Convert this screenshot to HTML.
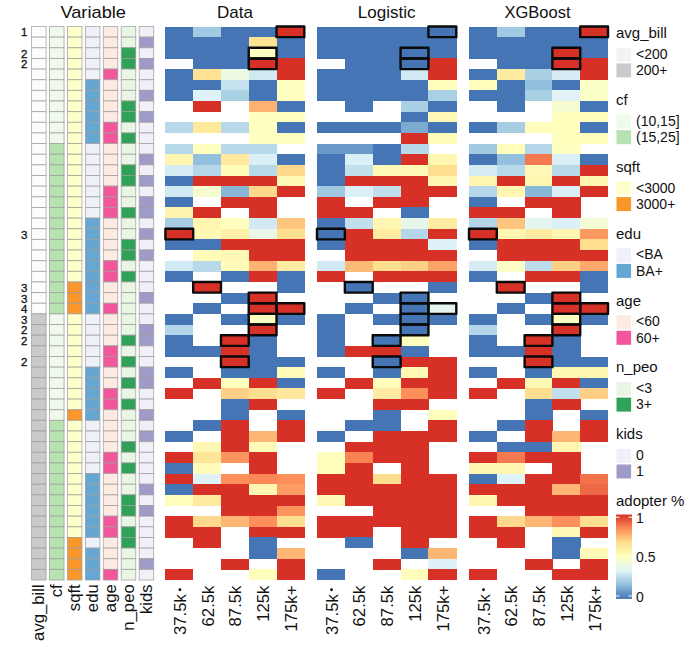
<!DOCTYPE html>
<html><head><meta charset="utf-8"><title>heatmap</title>
<style>html,body{margin:0;padding:0;background:#fff}body{width:696px;height:660px;overflow:hidden;font-family:"Liberation Sans",sans-serif}svg{display:block}</style></head>
<body>
<svg width="696" height="660" viewBox="0 0 696 660">
<rect width="696" height="660" fill="#ffffff"/>
<g font-family="Liberation Sans, sans-serif" font-size="17" fill="#111" text-anchor="middle">
<text x="93.2" y="18.1" textLength="65.6" lengthAdjust="spacingAndGlyphs">Variable</text>
<text x="234.9" y="18.1">Data</text>
<text x="386.6" y="18.1">Logistic</text>
<text x="537.5" y="18.1" textLength="66" lengthAdjust="spacingAndGlyphs">XGBoost</text>
</g>
<g font-family="Liberation Sans, sans-serif" font-size="11.5" fill="#111" text-anchor="end" stroke="#111" stroke-width="0.3">
<text x="27.4" y="36.42">1</text>
<text x="27.4" y="57.71">2</text>
<text x="27.4" y="68.36">2</text>
<text x="27.4" y="238.68">3</text>
<text x="27.4" y="291.90">3</text>
<text x="27.4" y="302.55">3</text>
<text x="27.4" y="313.19">4</text>
<text x="27.4" y="323.84">3</text>
<text x="27.4" y="334.48">2</text>
<text x="27.4" y="345.13">2</text>
<text x="27.4" y="366.42">2</text>
</g>
<g stroke="#9c9c9c" stroke-opacity="0.8" stroke-width="0.9">
<rect x="31.60" y="26.50" width="14.5" height="10.645" fill="#fcfcfc"/>
<rect x="31.60" y="37.14" width="14.5" height="10.645" fill="#fcfcfc"/>
<rect x="31.60" y="47.79" width="14.5" height="10.645" fill="#fcfcfc"/>
<rect x="31.60" y="58.44" width="14.5" height="10.645" fill="#fcfcfc"/>
<rect x="31.60" y="69.08" width="14.5" height="10.645" fill="#fcfcfc"/>
<rect x="31.60" y="79.72" width="14.5" height="10.645" fill="#fcfcfc"/>
<rect x="31.60" y="90.37" width="14.5" height="10.645" fill="#fcfcfc"/>
<rect x="31.60" y="101.02" width="14.5" height="10.645" fill="#fcfcfc"/>
<rect x="31.60" y="111.66" width="14.5" height="10.645" fill="#fcfcfc"/>
<rect x="31.60" y="122.30" width="14.5" height="10.645" fill="#fcfcfc"/>
<rect x="31.60" y="132.95" width="14.5" height="10.645" fill="#fcfcfc"/>
<rect x="31.60" y="143.59" width="14.5" height="10.645" fill="#fcfcfc"/>
<rect x="31.60" y="154.24" width="14.5" height="10.645" fill="#fcfcfc"/>
<rect x="31.60" y="164.88" width="14.5" height="10.645" fill="#fcfcfc"/>
<rect x="31.60" y="175.53" width="14.5" height="10.645" fill="#fcfcfc"/>
<rect x="31.60" y="186.17" width="14.5" height="10.645" fill="#fcfcfc"/>
<rect x="31.60" y="196.82" width="14.5" height="10.645" fill="#fcfcfc"/>
<rect x="31.60" y="207.47" width="14.5" height="10.645" fill="#fcfcfc"/>
<rect x="31.60" y="218.11" width="14.5" height="10.645" fill="#fcfcfc"/>
<rect x="31.60" y="228.75" width="14.5" height="10.645" fill="#fcfcfc"/>
<rect x="31.60" y="239.40" width="14.5" height="10.645" fill="#fcfcfc"/>
<rect x="31.60" y="250.04" width="14.5" height="10.645" fill="#fcfcfc"/>
<rect x="31.60" y="260.69" width="14.5" height="10.645" fill="#fcfcfc"/>
<rect x="31.60" y="271.33" width="14.5" height="10.645" fill="#fcfcfc"/>
<rect x="31.60" y="281.98" width="14.5" height="10.645" fill="#fcfcfc"/>
<rect x="31.60" y="292.62" width="14.5" height="10.645" fill="#fcfcfc"/>
<rect x="31.60" y="303.27" width="14.5" height="10.645" fill="#fcfcfc"/>
<rect x="31.60" y="313.91" width="14.5" height="10.645" fill="#cacaca"/>
<rect x="31.60" y="324.56" width="14.5" height="10.645" fill="#cacaca"/>
<rect x="31.60" y="335.20" width="14.5" height="10.645" fill="#cacaca"/>
<rect x="31.60" y="345.85" width="14.5" height="10.645" fill="#cacaca"/>
<rect x="31.60" y="356.50" width="14.5" height="10.645" fill="#cacaca"/>
<rect x="31.60" y="367.14" width="14.5" height="10.645" fill="#cacaca"/>
<rect x="31.60" y="377.78" width="14.5" height="10.645" fill="#cacaca"/>
<rect x="31.60" y="388.43" width="14.5" height="10.645" fill="#cacaca"/>
<rect x="31.60" y="399.07" width="14.5" height="10.645" fill="#cacaca"/>
<rect x="31.60" y="409.72" width="14.5" height="10.645" fill="#cacaca"/>
<rect x="31.60" y="420.37" width="14.5" height="10.645" fill="#cacaca"/>
<rect x="31.60" y="431.01" width="14.5" height="10.645" fill="#cacaca"/>
<rect x="31.60" y="441.65" width="14.5" height="10.645" fill="#cacaca"/>
<rect x="31.60" y="452.30" width="14.5" height="10.645" fill="#cacaca"/>
<rect x="31.60" y="462.94" width="14.5" height="10.645" fill="#cacaca"/>
<rect x="31.60" y="473.59" width="14.5" height="10.645" fill="#cacaca"/>
<rect x="31.60" y="484.23" width="14.5" height="10.645" fill="#cacaca"/>
<rect x="31.60" y="494.88" width="14.5" height="10.645" fill="#cacaca"/>
<rect x="31.60" y="505.52" width="14.5" height="10.645" fill="#cacaca"/>
<rect x="31.60" y="516.17" width="14.5" height="10.645" fill="#cacaca"/>
<rect x="31.60" y="526.82" width="14.5" height="10.645" fill="#cacaca"/>
<rect x="31.60" y="537.46" width="14.5" height="10.645" fill="#cacaca"/>
<rect x="31.60" y="548.11" width="14.5" height="10.645" fill="#cacaca"/>
<rect x="31.60" y="558.75" width="14.5" height="10.645" fill="#cacaca"/>
<rect x="31.60" y="569.39" width="14.5" height="10.645" fill="#cacaca"/>
<rect x="49.53" y="26.50" width="14.5" height="10.645" fill="#eff9ec"/>
<rect x="49.53" y="37.14" width="14.5" height="10.645" fill="#eff9ec"/>
<rect x="49.53" y="47.79" width="14.5" height="10.645" fill="#eff9ec"/>
<rect x="49.53" y="58.44" width="14.5" height="10.645" fill="#eff9ec"/>
<rect x="49.53" y="69.08" width="14.5" height="10.645" fill="#eff9ec"/>
<rect x="49.53" y="79.72" width="14.5" height="10.645" fill="#eff9ec"/>
<rect x="49.53" y="90.37" width="14.5" height="10.645" fill="#eff9ec"/>
<rect x="49.53" y="101.02" width="14.5" height="10.645" fill="#eff9ec"/>
<rect x="49.53" y="111.66" width="14.5" height="10.645" fill="#eff9ec"/>
<rect x="49.53" y="122.30" width="14.5" height="10.645" fill="#eff9ec"/>
<rect x="49.53" y="132.95" width="14.5" height="10.645" fill="#eff9ec"/>
<rect x="49.53" y="143.59" width="14.5" height="10.645" fill="#b7e2b1"/>
<rect x="49.53" y="154.24" width="14.5" height="10.645" fill="#b7e2b1"/>
<rect x="49.53" y="164.88" width="14.5" height="10.645" fill="#b7e2b1"/>
<rect x="49.53" y="175.53" width="14.5" height="10.645" fill="#b7e2b1"/>
<rect x="49.53" y="186.17" width="14.5" height="10.645" fill="#b7e2b1"/>
<rect x="49.53" y="196.82" width="14.5" height="10.645" fill="#b7e2b1"/>
<rect x="49.53" y="207.47" width="14.5" height="10.645" fill="#b7e2b1"/>
<rect x="49.53" y="218.11" width="14.5" height="10.645" fill="#b7e2b1"/>
<rect x="49.53" y="228.75" width="14.5" height="10.645" fill="#b7e2b1"/>
<rect x="49.53" y="239.40" width="14.5" height="10.645" fill="#b7e2b1"/>
<rect x="49.53" y="250.04" width="14.5" height="10.645" fill="#b7e2b1"/>
<rect x="49.53" y="260.69" width="14.5" height="10.645" fill="#b7e2b1"/>
<rect x="49.53" y="271.33" width="14.5" height="10.645" fill="#b7e2b1"/>
<rect x="49.53" y="281.98" width="14.5" height="10.645" fill="#b7e2b1"/>
<rect x="49.53" y="292.62" width="14.5" height="10.645" fill="#b7e2b1"/>
<rect x="49.53" y="303.27" width="14.5" height="10.645" fill="#b7e2b1"/>
<rect x="49.53" y="313.91" width="14.5" height="10.645" fill="#eff9ec"/>
<rect x="49.53" y="324.56" width="14.5" height="10.645" fill="#eff9ec"/>
<rect x="49.53" y="335.20" width="14.5" height="10.645" fill="#eff9ec"/>
<rect x="49.53" y="345.85" width="14.5" height="10.645" fill="#eff9ec"/>
<rect x="49.53" y="356.50" width="14.5" height="10.645" fill="#eff9ec"/>
<rect x="49.53" y="367.14" width="14.5" height="10.645" fill="#eff9ec"/>
<rect x="49.53" y="377.78" width="14.5" height="10.645" fill="#eff9ec"/>
<rect x="49.53" y="388.43" width="14.5" height="10.645" fill="#eff9ec"/>
<rect x="49.53" y="399.07" width="14.5" height="10.645" fill="#eff9ec"/>
<rect x="49.53" y="409.72" width="14.5" height="10.645" fill="#eff9ec"/>
<rect x="49.53" y="420.37" width="14.5" height="10.645" fill="#b7e2b1"/>
<rect x="49.53" y="431.01" width="14.5" height="10.645" fill="#b7e2b1"/>
<rect x="49.53" y="441.65" width="14.5" height="10.645" fill="#b7e2b1"/>
<rect x="49.53" y="452.30" width="14.5" height="10.645" fill="#b7e2b1"/>
<rect x="49.53" y="462.94" width="14.5" height="10.645" fill="#b7e2b1"/>
<rect x="49.53" y="473.59" width="14.5" height="10.645" fill="#b7e2b1"/>
<rect x="49.53" y="484.23" width="14.5" height="10.645" fill="#b7e2b1"/>
<rect x="49.53" y="494.88" width="14.5" height="10.645" fill="#b7e2b1"/>
<rect x="49.53" y="505.52" width="14.5" height="10.645" fill="#b7e2b1"/>
<rect x="49.53" y="516.17" width="14.5" height="10.645" fill="#b7e2b1"/>
<rect x="49.53" y="526.82" width="14.5" height="10.645" fill="#b7e2b1"/>
<rect x="49.53" y="537.46" width="14.5" height="10.645" fill="#b7e2b1"/>
<rect x="49.53" y="548.11" width="14.5" height="10.645" fill="#b7e2b1"/>
<rect x="49.53" y="558.75" width="14.5" height="10.645" fill="#b7e2b1"/>
<rect x="49.53" y="569.39" width="14.5" height="10.645" fill="#b7e2b1"/>
<rect x="67.46" y="26.50" width="14.5" height="10.645" fill="#ffffcc"/>
<rect x="67.46" y="37.14" width="14.5" height="10.645" fill="#ffffcc"/>
<rect x="67.46" y="47.79" width="14.5" height="10.645" fill="#ffffcc"/>
<rect x="67.46" y="58.44" width="14.5" height="10.645" fill="#ffffcc"/>
<rect x="67.46" y="69.08" width="14.5" height="10.645" fill="#ffffcc"/>
<rect x="67.46" y="79.72" width="14.5" height="10.645" fill="#ffffcc"/>
<rect x="67.46" y="90.37" width="14.5" height="10.645" fill="#ffffcc"/>
<rect x="67.46" y="101.02" width="14.5" height="10.645" fill="#ffffcc"/>
<rect x="67.46" y="111.66" width="14.5" height="10.645" fill="#ffffcc"/>
<rect x="67.46" y="122.30" width="14.5" height="10.645" fill="#ffffcc"/>
<rect x="67.46" y="132.95" width="14.5" height="10.645" fill="#ffffcc"/>
<rect x="67.46" y="143.59" width="14.5" height="10.645" fill="#ffffcc"/>
<rect x="67.46" y="154.24" width="14.5" height="10.645" fill="#ffffcc"/>
<rect x="67.46" y="164.88" width="14.5" height="10.645" fill="#ffffcc"/>
<rect x="67.46" y="175.53" width="14.5" height="10.645" fill="#ffffcc"/>
<rect x="67.46" y="186.17" width="14.5" height="10.645" fill="#ffffcc"/>
<rect x="67.46" y="196.82" width="14.5" height="10.645" fill="#ffffcc"/>
<rect x="67.46" y="207.47" width="14.5" height="10.645" fill="#ffffcc"/>
<rect x="67.46" y="218.11" width="14.5" height="10.645" fill="#ffffcc"/>
<rect x="67.46" y="228.75" width="14.5" height="10.645" fill="#ffffcc"/>
<rect x="67.46" y="239.40" width="14.5" height="10.645" fill="#ffffcc"/>
<rect x="67.46" y="250.04" width="14.5" height="10.645" fill="#ffffcc"/>
<rect x="67.46" y="260.69" width="14.5" height="10.645" fill="#ffffcc"/>
<rect x="67.46" y="271.33" width="14.5" height="10.645" fill="#ffffcc"/>
<rect x="67.46" y="281.98" width="14.5" height="10.645" fill="#f9972b"/>
<rect x="67.46" y="292.62" width="14.5" height="10.645" fill="#f9972b"/>
<rect x="67.46" y="303.27" width="14.5" height="10.645" fill="#f9972b"/>
<rect x="67.46" y="313.91" width="14.5" height="10.645" fill="#ffffcc"/>
<rect x="67.46" y="324.56" width="14.5" height="10.645" fill="#ffffcc"/>
<rect x="67.46" y="335.20" width="14.5" height="10.645" fill="#ffffcc"/>
<rect x="67.46" y="345.85" width="14.5" height="10.645" fill="#ffffcc"/>
<rect x="67.46" y="356.50" width="14.5" height="10.645" fill="#ffffcc"/>
<rect x="67.46" y="367.14" width="14.5" height="10.645" fill="#ffffcc"/>
<rect x="67.46" y="377.78" width="14.5" height="10.645" fill="#ffffcc"/>
<rect x="67.46" y="388.43" width="14.5" height="10.645" fill="#ffffcc"/>
<rect x="67.46" y="399.07" width="14.5" height="10.645" fill="#ffffcc"/>
<rect x="67.46" y="409.72" width="14.5" height="10.645" fill="#f9972b"/>
<rect x="67.46" y="420.37" width="14.5" height="10.645" fill="#ffffcc"/>
<rect x="67.46" y="431.01" width="14.5" height="10.645" fill="#ffffcc"/>
<rect x="67.46" y="441.65" width="14.5" height="10.645" fill="#ffffcc"/>
<rect x="67.46" y="452.30" width="14.5" height="10.645" fill="#ffffcc"/>
<rect x="67.46" y="462.94" width="14.5" height="10.645" fill="#ffffcc"/>
<rect x="67.46" y="473.59" width="14.5" height="10.645" fill="#ffffcc"/>
<rect x="67.46" y="484.23" width="14.5" height="10.645" fill="#ffffcc"/>
<rect x="67.46" y="494.88" width="14.5" height="10.645" fill="#ffffcc"/>
<rect x="67.46" y="505.52" width="14.5" height="10.645" fill="#ffffcc"/>
<rect x="67.46" y="516.17" width="14.5" height="10.645" fill="#ffffcc"/>
<rect x="67.46" y="526.82" width="14.5" height="10.645" fill="#ffffcc"/>
<rect x="67.46" y="537.46" width="14.5" height="10.645" fill="#f9972b"/>
<rect x="67.46" y="548.11" width="14.5" height="10.645" fill="#f9972b"/>
<rect x="67.46" y="558.75" width="14.5" height="10.645" fill="#f9972b"/>
<rect x="67.46" y="569.39" width="14.5" height="10.645" fill="#f9972b"/>
<rect x="85.39" y="26.50" width="14.5" height="10.645" fill="#eef1f9"/>
<rect x="85.39" y="37.14" width="14.5" height="10.645" fill="#eef1f9"/>
<rect x="85.39" y="47.79" width="14.5" height="10.645" fill="#eef1f9"/>
<rect x="85.39" y="58.44" width="14.5" height="10.645" fill="#eef1f9"/>
<rect x="85.39" y="69.08" width="14.5" height="10.645" fill="#eef1f9"/>
<rect x="85.39" y="79.72" width="14.5" height="10.645" fill="#66a6d3"/>
<rect x="85.39" y="90.37" width="14.5" height="10.645" fill="#66a6d3"/>
<rect x="85.39" y="101.02" width="14.5" height="10.645" fill="#66a6d3"/>
<rect x="85.39" y="111.66" width="14.5" height="10.645" fill="#66a6d3"/>
<rect x="85.39" y="122.30" width="14.5" height="10.645" fill="#66a6d3"/>
<rect x="85.39" y="132.95" width="14.5" height="10.645" fill="#66a6d3"/>
<rect x="85.39" y="143.59" width="14.5" height="10.645" fill="#eef1f9"/>
<rect x="85.39" y="154.24" width="14.5" height="10.645" fill="#eef1f9"/>
<rect x="85.39" y="164.88" width="14.5" height="10.645" fill="#eef1f9"/>
<rect x="85.39" y="175.53" width="14.5" height="10.645" fill="#eef1f9"/>
<rect x="85.39" y="186.17" width="14.5" height="10.645" fill="#eef1f9"/>
<rect x="85.39" y="196.82" width="14.5" height="10.645" fill="#eef1f9"/>
<rect x="85.39" y="207.47" width="14.5" height="10.645" fill="#eef1f9"/>
<rect x="85.39" y="218.11" width="14.5" height="10.645" fill="#66a6d3"/>
<rect x="85.39" y="228.75" width="14.5" height="10.645" fill="#66a6d3"/>
<rect x="85.39" y="239.40" width="14.5" height="10.645" fill="#66a6d3"/>
<rect x="85.39" y="250.04" width="14.5" height="10.645" fill="#66a6d3"/>
<rect x="85.39" y="260.69" width="14.5" height="10.645" fill="#66a6d3"/>
<rect x="85.39" y="271.33" width="14.5" height="10.645" fill="#66a6d3"/>
<rect x="85.39" y="281.98" width="14.5" height="10.645" fill="#66a6d3"/>
<rect x="85.39" y="292.62" width="14.5" height="10.645" fill="#66a6d3"/>
<rect x="85.39" y="303.27" width="14.5" height="10.645" fill="#66a6d3"/>
<rect x="85.39" y="313.91" width="14.5" height="10.645" fill="#eef1f9"/>
<rect x="85.39" y="324.56" width="14.5" height="10.645" fill="#eef1f9"/>
<rect x="85.39" y="335.20" width="14.5" height="10.645" fill="#eef1f9"/>
<rect x="85.39" y="345.85" width="14.5" height="10.645" fill="#eef1f9"/>
<rect x="85.39" y="356.50" width="14.5" height="10.645" fill="#eef1f9"/>
<rect x="85.39" y="367.14" width="14.5" height="10.645" fill="#66a6d3"/>
<rect x="85.39" y="377.78" width="14.5" height="10.645" fill="#66a6d3"/>
<rect x="85.39" y="388.43" width="14.5" height="10.645" fill="#66a6d3"/>
<rect x="85.39" y="399.07" width="14.5" height="10.645" fill="#66a6d3"/>
<rect x="85.39" y="409.72" width="14.5" height="10.645" fill="#66a6d3"/>
<rect x="85.39" y="420.37" width="14.5" height="10.645" fill="#eef1f9"/>
<rect x="85.39" y="431.01" width="14.5" height="10.645" fill="#eef1f9"/>
<rect x="85.39" y="441.65" width="14.5" height="10.645" fill="#eef1f9"/>
<rect x="85.39" y="452.30" width="14.5" height="10.645" fill="#eef1f9"/>
<rect x="85.39" y="462.94" width="14.5" height="10.645" fill="#eef1f9"/>
<rect x="85.39" y="473.59" width="14.5" height="10.645" fill="#66a6d3"/>
<rect x="85.39" y="484.23" width="14.5" height="10.645" fill="#66a6d3"/>
<rect x="85.39" y="494.88" width="14.5" height="10.645" fill="#66a6d3"/>
<rect x="85.39" y="505.52" width="14.5" height="10.645" fill="#66a6d3"/>
<rect x="85.39" y="516.17" width="14.5" height="10.645" fill="#66a6d3"/>
<rect x="85.39" y="526.82" width="14.5" height="10.645" fill="#66a6d3"/>
<rect x="85.39" y="537.46" width="14.5" height="10.645" fill="#eef1f9"/>
<rect x="85.39" y="548.11" width="14.5" height="10.645" fill="#66a6d3"/>
<rect x="85.39" y="558.75" width="14.5" height="10.645" fill="#66a6d3"/>
<rect x="85.39" y="569.39" width="14.5" height="10.645" fill="#66a6d3"/>
<rect x="103.32" y="26.50" width="14.5" height="10.645" fill="#fdebe3"/>
<rect x="103.32" y="37.14" width="14.5" height="10.645" fill="#fdebe3"/>
<rect x="103.32" y="47.79" width="14.5" height="10.645" fill="#fdebe3"/>
<rect x="103.32" y="58.44" width="14.5" height="10.645" fill="#fdebe3"/>
<rect x="103.32" y="69.08" width="14.5" height="10.645" fill="#f2579b"/>
<rect x="103.32" y="79.72" width="14.5" height="10.645" fill="#fdebe3"/>
<rect x="103.32" y="90.37" width="14.5" height="10.645" fill="#fdebe3"/>
<rect x="103.32" y="101.02" width="14.5" height="10.645" fill="#fdebe3"/>
<rect x="103.32" y="111.66" width="14.5" height="10.645" fill="#fdebe3"/>
<rect x="103.32" y="122.30" width="14.5" height="10.645" fill="#f2579b"/>
<rect x="103.32" y="132.95" width="14.5" height="10.645" fill="#f2579b"/>
<rect x="103.32" y="143.59" width="14.5" height="10.645" fill="#fdebe3"/>
<rect x="103.32" y="154.24" width="14.5" height="10.645" fill="#fdebe3"/>
<rect x="103.32" y="164.88" width="14.5" height="10.645" fill="#fdebe3"/>
<rect x="103.32" y="175.53" width="14.5" height="10.645" fill="#fdebe3"/>
<rect x="103.32" y="186.17" width="14.5" height="10.645" fill="#f2579b"/>
<rect x="103.32" y="196.82" width="14.5" height="10.645" fill="#f2579b"/>
<rect x="103.32" y="207.47" width="14.5" height="10.645" fill="#f2579b"/>
<rect x="103.32" y="218.11" width="14.5" height="10.645" fill="#fdebe3"/>
<rect x="103.32" y="228.75" width="14.5" height="10.645" fill="#fdebe3"/>
<rect x="103.32" y="239.40" width="14.5" height="10.645" fill="#fdebe3"/>
<rect x="103.32" y="250.04" width="14.5" height="10.645" fill="#fdebe3"/>
<rect x="103.32" y="260.69" width="14.5" height="10.645" fill="#f2579b"/>
<rect x="103.32" y="271.33" width="14.5" height="10.645" fill="#f2579b"/>
<rect x="103.32" y="281.98" width="14.5" height="10.645" fill="#fdebe3"/>
<rect x="103.32" y="292.62" width="14.5" height="10.645" fill="#fdebe3"/>
<rect x="103.32" y="303.27" width="14.5" height="10.645" fill="#f2579b"/>
<rect x="103.32" y="313.91" width="14.5" height="10.645" fill="#fdebe3"/>
<rect x="103.32" y="324.56" width="14.5" height="10.645" fill="#fdebe3"/>
<rect x="103.32" y="335.20" width="14.5" height="10.645" fill="#fdebe3"/>
<rect x="103.32" y="345.85" width="14.5" height="10.645" fill="#f2579b"/>
<rect x="103.32" y="356.50" width="14.5" height="10.645" fill="#f2579b"/>
<rect x="103.32" y="367.14" width="14.5" height="10.645" fill="#fdebe3"/>
<rect x="103.32" y="377.78" width="14.5" height="10.645" fill="#fdebe3"/>
<rect x="103.32" y="388.43" width="14.5" height="10.645" fill="#f2579b"/>
<rect x="103.32" y="399.07" width="14.5" height="10.645" fill="#f2579b"/>
<rect x="103.32" y="409.72" width="14.5" height="10.645" fill="#fdebe3"/>
<rect x="103.32" y="420.37" width="14.5" height="10.645" fill="#fdebe3"/>
<rect x="103.32" y="431.01" width="14.5" height="10.645" fill="#fdebe3"/>
<rect x="103.32" y="441.65" width="14.5" height="10.645" fill="#fdebe3"/>
<rect x="103.32" y="452.30" width="14.5" height="10.645" fill="#f2579b"/>
<rect x="103.32" y="462.94" width="14.5" height="10.645" fill="#f2579b"/>
<rect x="103.32" y="473.59" width="14.5" height="10.645" fill="#fdebe3"/>
<rect x="103.32" y="484.23" width="14.5" height="10.645" fill="#fdebe3"/>
<rect x="103.32" y="494.88" width="14.5" height="10.645" fill="#fdebe3"/>
<rect x="103.32" y="505.52" width="14.5" height="10.645" fill="#fdebe3"/>
<rect x="103.32" y="516.17" width="14.5" height="10.645" fill="#f2579b"/>
<rect x="103.32" y="526.82" width="14.5" height="10.645" fill="#f2579b"/>
<rect x="103.32" y="537.46" width="14.5" height="10.645" fill="#fdebe3"/>
<rect x="103.32" y="548.11" width="14.5" height="10.645" fill="#fdebe3"/>
<rect x="103.32" y="558.75" width="14.5" height="10.645" fill="#fdebe3"/>
<rect x="103.32" y="569.39" width="14.5" height="10.645" fill="#f2579b"/>
<rect x="121.25" y="26.50" width="14.5" height="10.645" fill="#e9f6e4"/>
<rect x="121.25" y="37.14" width="14.5" height="10.645" fill="#e9f6e4"/>
<rect x="121.25" y="47.79" width="14.5" height="10.645" fill="#2fa159"/>
<rect x="121.25" y="58.44" width="14.5" height="10.645" fill="#2fa159"/>
<rect x="121.25" y="69.08" width="14.5" height="10.645" fill="#e9f6e4"/>
<rect x="121.25" y="79.72" width="14.5" height="10.645" fill="#e9f6e4"/>
<rect x="121.25" y="90.37" width="14.5" height="10.645" fill="#e9f6e4"/>
<rect x="121.25" y="101.02" width="14.5" height="10.645" fill="#2fa159"/>
<rect x="121.25" y="111.66" width="14.5" height="10.645" fill="#2fa159"/>
<rect x="121.25" y="122.30" width="14.5" height="10.645" fill="#e9f6e4"/>
<rect x="121.25" y="132.95" width="14.5" height="10.645" fill="#2fa159"/>
<rect x="121.25" y="143.59" width="14.5" height="10.645" fill="#e9f6e4"/>
<rect x="121.25" y="154.24" width="14.5" height="10.645" fill="#e9f6e4"/>
<rect x="121.25" y="164.88" width="14.5" height="10.645" fill="#2fa159"/>
<rect x="121.25" y="175.53" width="14.5" height="10.645" fill="#2fa159"/>
<rect x="121.25" y="186.17" width="14.5" height="10.645" fill="#e9f6e4"/>
<rect x="121.25" y="196.82" width="14.5" height="10.645" fill="#e9f6e4"/>
<rect x="121.25" y="207.47" width="14.5" height="10.645" fill="#2fa159"/>
<rect x="121.25" y="218.11" width="14.5" height="10.645" fill="#e9f6e4"/>
<rect x="121.25" y="228.75" width="14.5" height="10.645" fill="#e9f6e4"/>
<rect x="121.25" y="239.40" width="14.5" height="10.645" fill="#2fa159"/>
<rect x="121.25" y="250.04" width="14.5" height="10.645" fill="#2fa159"/>
<rect x="121.25" y="260.69" width="14.5" height="10.645" fill="#e9f6e4"/>
<rect x="121.25" y="271.33" width="14.5" height="10.645" fill="#2fa159"/>
<rect x="121.25" y="281.98" width="14.5" height="10.645" fill="#e9f6e4"/>
<rect x="121.25" y="292.62" width="14.5" height="10.645" fill="#e9f6e4"/>
<rect x="121.25" y="303.27" width="14.5" height="10.645" fill="#e9f6e4"/>
<rect x="121.25" y="313.91" width="14.5" height="10.645" fill="#e9f6e4"/>
<rect x="121.25" y="324.56" width="14.5" height="10.645" fill="#e9f6e4"/>
<rect x="121.25" y="335.20" width="14.5" height="10.645" fill="#2fa159"/>
<rect x="121.25" y="345.85" width="14.5" height="10.645" fill="#e9f6e4"/>
<rect x="121.25" y="356.50" width="14.5" height="10.645" fill="#2fa159"/>
<rect x="121.25" y="367.14" width="14.5" height="10.645" fill="#e9f6e4"/>
<rect x="121.25" y="377.78" width="14.5" height="10.645" fill="#2fa159"/>
<rect x="121.25" y="388.43" width="14.5" height="10.645" fill="#e9f6e4"/>
<rect x="121.25" y="399.07" width="14.5" height="10.645" fill="#2fa159"/>
<rect x="121.25" y="409.72" width="14.5" height="10.645" fill="#e9f6e4"/>
<rect x="121.25" y="420.37" width="14.5" height="10.645" fill="#e9f6e4"/>
<rect x="121.25" y="431.01" width="14.5" height="10.645" fill="#e9f6e4"/>
<rect x="121.25" y="441.65" width="14.5" height="10.645" fill="#2fa159"/>
<rect x="121.25" y="452.30" width="14.5" height="10.645" fill="#e9f6e4"/>
<rect x="121.25" y="462.94" width="14.5" height="10.645" fill="#2fa159"/>
<rect x="121.25" y="473.59" width="14.5" height="10.645" fill="#e9f6e4"/>
<rect x="121.25" y="484.23" width="14.5" height="10.645" fill="#e9f6e4"/>
<rect x="121.25" y="494.88" width="14.5" height="10.645" fill="#2fa159"/>
<rect x="121.25" y="505.52" width="14.5" height="10.645" fill="#2fa159"/>
<rect x="121.25" y="516.17" width="14.5" height="10.645" fill="#e9f6e4"/>
<rect x="121.25" y="526.82" width="14.5" height="10.645" fill="#2fa159"/>
<rect x="121.25" y="537.46" width="14.5" height="10.645" fill="#2fa159"/>
<rect x="121.25" y="548.11" width="14.5" height="10.645" fill="#e9f6e4"/>
<rect x="121.25" y="558.75" width="14.5" height="10.645" fill="#e9f6e4"/>
<rect x="121.25" y="569.39" width="14.5" height="10.645" fill="#e9f6e4"/>
<rect x="139.18" y="26.50" width="14.5" height="10.645" fill="#f1eff7"/>
<rect x="139.18" y="37.14" width="14.5" height="10.645" fill="#9f9bc9"/>
<rect x="139.18" y="47.79" width="14.5" height="10.645" fill="#f1eff7"/>
<rect x="139.18" y="58.44" width="14.5" height="10.645" fill="#9f9bc9"/>
<rect x="139.18" y="69.08" width="14.5" height="10.645" fill="#f1eff7"/>
<rect x="139.18" y="79.72" width="14.5" height="10.645" fill="#f1eff7"/>
<rect x="139.18" y="90.37" width="14.5" height="10.645" fill="#9f9bc9"/>
<rect x="139.18" y="101.02" width="14.5" height="10.645" fill="#f1eff7"/>
<rect x="139.18" y="111.66" width="14.5" height="10.645" fill="#9f9bc9"/>
<rect x="139.18" y="122.30" width="14.5" height="10.645" fill="#f1eff7"/>
<rect x="139.18" y="132.95" width="14.5" height="10.645" fill="#f1eff7"/>
<rect x="139.18" y="143.59" width="14.5" height="10.645" fill="#f1eff7"/>
<rect x="139.18" y="154.24" width="14.5" height="10.645" fill="#9f9bc9"/>
<rect x="139.18" y="164.88" width="14.5" height="10.645" fill="#f1eff7"/>
<rect x="139.18" y="175.53" width="14.5" height="10.645" fill="#9f9bc9"/>
<rect x="139.18" y="186.17" width="14.5" height="10.645" fill="#f1eff7"/>
<rect x="139.18" y="196.82" width="14.5" height="10.645" fill="#9f9bc9"/>
<rect x="139.18" y="207.47" width="14.5" height="10.645" fill="#9f9bc9"/>
<rect x="139.18" y="218.11" width="14.5" height="10.645" fill="#f1eff7"/>
<rect x="139.18" y="228.75" width="14.5" height="10.645" fill="#9f9bc9"/>
<rect x="139.18" y="239.40" width="14.5" height="10.645" fill="#f1eff7"/>
<rect x="139.18" y="250.04" width="14.5" height="10.645" fill="#9f9bc9"/>
<rect x="139.18" y="260.69" width="14.5" height="10.645" fill="#f1eff7"/>
<rect x="139.18" y="271.33" width="14.5" height="10.645" fill="#f1eff7"/>
<rect x="139.18" y="281.98" width="14.5" height="10.645" fill="#f1eff7"/>
<rect x="139.18" y="292.62" width="14.5" height="10.645" fill="#9f9bc9"/>
<rect x="139.18" y="303.27" width="14.5" height="10.645" fill="#f1eff7"/>
<rect x="139.18" y="313.91" width="14.5" height="10.645" fill="#f1eff7"/>
<rect x="139.18" y="324.56" width="14.5" height="10.645" fill="#9f9bc9"/>
<rect x="139.18" y="335.20" width="14.5" height="10.645" fill="#9f9bc9"/>
<rect x="139.18" y="345.85" width="14.5" height="10.645" fill="#f1eff7"/>
<rect x="139.18" y="356.50" width="14.5" height="10.645" fill="#f1eff7"/>
<rect x="139.18" y="367.14" width="14.5" height="10.645" fill="#9f9bc9"/>
<rect x="139.18" y="377.78" width="14.5" height="10.645" fill="#9f9bc9"/>
<rect x="139.18" y="388.43" width="14.5" height="10.645" fill="#f1eff7"/>
<rect x="139.18" y="399.07" width="14.5" height="10.645" fill="#f1eff7"/>
<rect x="139.18" y="409.72" width="14.5" height="10.645" fill="#9f9bc9"/>
<rect x="139.18" y="420.37" width="14.5" height="10.645" fill="#f1eff7"/>
<rect x="139.18" y="431.01" width="14.5" height="10.645" fill="#9f9bc9"/>
<rect x="139.18" y="441.65" width="14.5" height="10.645" fill="#f1eff7"/>
<rect x="139.18" y="452.30" width="14.5" height="10.645" fill="#f1eff7"/>
<rect x="139.18" y="462.94" width="14.5" height="10.645" fill="#f1eff7"/>
<rect x="139.18" y="473.59" width="14.5" height="10.645" fill="#f1eff7"/>
<rect x="139.18" y="484.23" width="14.5" height="10.645" fill="#9f9bc9"/>
<rect x="139.18" y="494.88" width="14.5" height="10.645" fill="#f1eff7"/>
<rect x="139.18" y="505.52" width="14.5" height="10.645" fill="#9f9bc9"/>
<rect x="139.18" y="516.17" width="14.5" height="10.645" fill="#f1eff7"/>
<rect x="139.18" y="526.82" width="14.5" height="10.645" fill="#f1eff7"/>
<rect x="139.18" y="537.46" width="14.5" height="10.645" fill="#f1eff7"/>
<rect x="139.18" y="548.11" width="14.5" height="10.645" fill="#f1eff7"/>
<rect x="139.18" y="558.75" width="14.5" height="10.645" fill="#9f9bc9"/>
<rect x="139.18" y="569.39" width="14.5" height="10.645" fill="#f1eff7"/>
</g>
<g shape-rendering="crispEdges">
<rect x="165.40" y="26.50" width="28.08" height="10.95" fill="#4575b4"/>
<rect x="193.18" y="26.50" width="28.08" height="10.95" fill="#a1c9e1"/>
<rect x="220.96" y="26.50" width="28.08" height="10.95" fill="#4575b4"/>
<rect x="248.74" y="26.50" width="28.08" height="10.95" fill="#4575b4"/>
<rect x="276.52" y="26.50" width="28.08" height="10.95" fill="#d73027"/>
<rect x="165.40" y="37.14" width="28.08" height="10.95" fill="#4575b4"/>
<rect x="193.18" y="37.14" width="28.08" height="10.95" fill="#4575b4"/>
<rect x="220.96" y="37.14" width="28.08" height="10.95" fill="#4575b4"/>
<rect x="248.74" y="37.14" width="28.08" height="10.95" fill="#fee395"/>
<rect x="276.52" y="37.14" width="28.08" height="10.95" fill="#4575b4"/>
<rect x="165.40" y="47.79" width="28.08" height="10.95" fill="#4575b4"/>
<rect x="193.18" y="47.79" width="28.08" height="10.95" fill="#4575b4"/>
<rect x="220.96" y="47.79" width="28.08" height="10.95" fill="#4575b4"/>
<rect x="248.74" y="47.79" width="28.08" height="10.95" fill="#ffffbf"/>
<rect x="276.52" y="47.79" width="28.08" height="10.95" fill="#4575b4"/>
<rect x="193.18" y="58.44" width="28.08" height="10.95" fill="#4575b4"/>
<rect x="220.96" y="58.44" width="28.08" height="10.95" fill="#4575b4"/>
<rect x="248.74" y="58.44" width="28.08" height="10.95" fill="#d73027"/>
<rect x="276.52" y="58.44" width="28.08" height="10.95" fill="#d73027"/>
<rect x="165.40" y="69.08" width="28.08" height="10.95" fill="#4575b4"/>
<rect x="193.18" y="69.08" width="28.08" height="10.95" fill="#fee395"/>
<rect x="220.96" y="69.08" width="28.08" height="10.95" fill="#ecf8e1"/>
<rect x="248.74" y="69.08" width="28.08" height="10.95" fill="#d0e9f2"/>
<rect x="276.52" y="69.08" width="28.08" height="10.95" fill="#d73027"/>
<rect x="165.40" y="79.72" width="28.08" height="10.95" fill="#4575b4"/>
<rect x="193.18" y="79.72" width="28.08" height="10.95" fill="#4575b4"/>
<rect x="220.96" y="79.72" width="28.08" height="10.95" fill="#c7e2ef"/>
<rect x="248.74" y="79.72" width="28.08" height="10.95" fill="#4575b4"/>
<rect x="276.52" y="79.72" width="28.08" height="10.95" fill="#ffffbf"/>
<rect x="165.40" y="90.37" width="28.08" height="10.95" fill="#4575b4"/>
<rect x="193.18" y="90.37" width="28.08" height="10.95" fill="#def2f7"/>
<rect x="220.96" y="90.37" width="28.08" height="10.95" fill="#aad0e4"/>
<rect x="248.74" y="90.37" width="28.08" height="10.95" fill="#4575b4"/>
<rect x="276.52" y="90.37" width="28.08" height="10.95" fill="#ffffbf"/>
<rect x="193.18" y="101.02" width="28.08" height="10.95" fill="#d73027"/>
<rect x="248.74" y="101.02" width="28.08" height="10.95" fill="#fdb271"/>
<rect x="276.52" y="101.02" width="28.08" height="10.95" fill="#4575b4"/>
<rect x="248.74" y="111.66" width="28.08" height="10.95" fill="#ffffbf"/>
<rect x="276.52" y="111.66" width="28.08" height="10.95" fill="#ffffbf"/>
<rect x="165.40" y="122.30" width="28.08" height="10.95" fill="#b8d9ea"/>
<rect x="193.18" y="122.30" width="28.08" height="10.95" fill="#fee99d"/>
<rect x="220.96" y="122.30" width="28.08" height="10.95" fill="#b8d9ea"/>
<rect x="248.74" y="122.30" width="28.08" height="10.95" fill="#ffffbf"/>
<rect x="276.52" y="122.30" width="28.08" height="10.95" fill="#4575b4"/>
<rect x="248.74" y="132.95" width="28.08" height="10.95" fill="#ffffbf"/>
<rect x="276.52" y="132.95" width="28.08" height="10.95" fill="#ffffbf"/>
<rect x="165.40" y="143.59" width="28.08" height="10.95" fill="#b8d9ea"/>
<rect x="193.18" y="143.59" width="28.08" height="10.95" fill="#ffffbf"/>
<rect x="220.96" y="143.59" width="28.08" height="10.95" fill="#b8d9ea"/>
<rect x="248.74" y="143.59" width="28.08" height="10.95" fill="#b8d9ea"/>
<rect x="165.40" y="154.24" width="28.08" height="10.95" fill="#fff6b1"/>
<rect x="193.18" y="154.24" width="28.08" height="10.95" fill="#93c0dc"/>
<rect x="220.96" y="154.24" width="28.08" height="10.95" fill="#fee99d"/>
<rect x="248.74" y="154.24" width="28.08" height="10.95" fill="#daeff6"/>
<rect x="276.52" y="154.24" width="28.08" height="10.95" fill="#4575b4"/>
<rect x="165.40" y="164.88" width="28.08" height="10.95" fill="#d5ecf4"/>
<rect x="193.18" y="164.88" width="28.08" height="10.95" fill="#b4d6e8"/>
<rect x="220.96" y="164.88" width="28.08" height="10.95" fill="#fffbb9"/>
<rect x="248.74" y="164.88" width="28.08" height="10.95" fill="#b8d9ea"/>
<rect x="276.52" y="164.88" width="28.08" height="10.95" fill="#fed98c"/>
<rect x="165.40" y="175.53" width="28.08" height="10.95" fill="#4575b4"/>
<rect x="193.18" y="175.53" width="28.08" height="10.95" fill="#d73027"/>
<rect x="220.96" y="175.53" width="28.08" height="10.95" fill="#d73027"/>
<rect x="248.74" y="175.53" width="28.08" height="10.95" fill="#d73027"/>
<rect x="276.52" y="175.53" width="28.08" height="10.95" fill="#fff8b4"/>
<rect x="165.40" y="186.17" width="28.08" height="10.95" fill="#d0e9f2"/>
<rect x="193.18" y="186.17" width="28.08" height="10.95" fill="#f6fbd0"/>
<rect x="220.96" y="186.17" width="28.08" height="10.95" fill="#89b8d7"/>
<rect x="248.74" y="186.17" width="28.08" height="10.95" fill="#fed98c"/>
<rect x="276.52" y="186.17" width="28.08" height="10.95" fill="#d73027"/>
<rect x="165.40" y="196.82" width="28.08" height="10.95" fill="#4575b4"/>
<rect x="220.96" y="196.82" width="28.08" height="10.95" fill="#d73027"/>
<rect x="248.74" y="196.82" width="28.08" height="10.95" fill="#d73027"/>
<rect x="165.40" y="207.47" width="28.08" height="10.95" fill="#fff4ae"/>
<rect x="193.18" y="207.47" width="28.08" height="10.95" fill="#d73027"/>
<rect x="248.74" y="207.47" width="28.08" height="10.95" fill="#d73027"/>
<rect x="165.40" y="218.11" width="28.08" height="10.95" fill="#a6cde3"/>
<rect x="193.18" y="218.11" width="28.08" height="10.95" fill="#fff6b1"/>
<rect x="220.96" y="218.11" width="28.08" height="10.95" fill="#ffffbf"/>
<rect x="248.74" y="218.11" width="28.08" height="10.95" fill="#d0e9f2"/>
<rect x="276.52" y="218.11" width="28.08" height="10.95" fill="#fdc57e"/>
<rect x="165.40" y="228.75" width="28.08" height="10.95" fill="#d73027"/>
<rect x="193.18" y="228.75" width="28.08" height="10.95" fill="#fff8b4"/>
<rect x="220.96" y="228.75" width="28.08" height="10.95" fill="#fff0a8"/>
<rect x="248.74" y="228.75" width="28.08" height="10.95" fill="#e9f6e8"/>
<rect x="276.52" y="228.75" width="28.08" height="10.95" fill="#fede8f"/>
<rect x="165.40" y="239.40" width="28.08" height="10.95" fill="#4575b4"/>
<rect x="193.18" y="239.40" width="28.08" height="10.95" fill="#4575b4"/>
<rect x="220.96" y="239.40" width="28.08" height="10.95" fill="#d73027"/>
<rect x="248.74" y="239.40" width="28.08" height="10.95" fill="#d73027"/>
<rect x="276.52" y="239.40" width="28.08" height="10.95" fill="#d73027"/>
<rect x="193.18" y="250.04" width="28.08" height="10.95" fill="#fffbb9"/>
<rect x="220.96" y="250.04" width="28.08" height="10.95" fill="#fff8b4"/>
<rect x="248.74" y="250.04" width="28.08" height="10.95" fill="#d73027"/>
<rect x="276.52" y="250.04" width="28.08" height="10.95" fill="#d73027"/>
<rect x="165.40" y="260.69" width="28.08" height="10.95" fill="#d0e9f2"/>
<rect x="193.18" y="260.69" width="28.08" height="10.95" fill="#b8d9ea"/>
<rect x="220.96" y="260.69" width="28.08" height="10.95" fill="#fffbb9"/>
<rect x="248.74" y="260.69" width="28.08" height="10.95" fill="#fdb271"/>
<rect x="276.52" y="260.69" width="28.08" height="10.95" fill="#feeca3"/>
<rect x="165.40" y="271.33" width="28.08" height="10.95" fill="#4575b4"/>
<rect x="220.96" y="271.33" width="28.08" height="10.95" fill="#4575b4"/>
<rect x="248.74" y="271.33" width="28.08" height="10.95" fill="#d73027"/>
<rect x="276.52" y="271.33" width="28.08" height="10.95" fill="#4575b4"/>
<rect x="193.18" y="281.98" width="28.08" height="10.95" fill="#d73027"/>
<rect x="276.52" y="281.98" width="28.08" height="10.95" fill="#4575b4"/>
<rect x="220.96" y="292.62" width="28.08" height="10.95" fill="#4575b4"/>
<rect x="248.74" y="292.62" width="28.08" height="10.95" fill="#d73027"/>
<rect x="193.18" y="303.27" width="28.08" height="10.95" fill="#4575b4"/>
<rect x="248.74" y="303.27" width="28.08" height="10.95" fill="#d73027"/>
<rect x="276.52" y="303.27" width="28.08" height="10.95" fill="#d73027"/>
<rect x="165.40" y="313.91" width="28.08" height="10.95" fill="#4575b4"/>
<rect x="220.96" y="313.91" width="28.08" height="10.95" fill="#4575b4"/>
<rect x="248.74" y="313.91" width="28.08" height="10.95" fill="#ffffbf"/>
<rect x="276.52" y="313.91" width="28.08" height="10.95" fill="#4575b4"/>
<rect x="165.40" y="324.56" width="28.08" height="10.95" fill="#b4d6e8"/>
<rect x="248.74" y="324.56" width="28.08" height="10.95" fill="#d73027"/>
<rect x="165.40" y="335.20" width="28.08" height="10.95" fill="#4575b4"/>
<rect x="220.96" y="335.20" width="28.08" height="10.95" fill="#d73027"/>
<rect x="248.74" y="335.20" width="28.08" height="10.95" fill="#4575b4"/>
<rect x="165.40" y="345.85" width="28.08" height="10.95" fill="#4575b4"/>
<rect x="193.18" y="345.85" width="28.08" height="10.95" fill="#4575b4"/>
<rect x="220.96" y="345.85" width="28.08" height="10.95" fill="#d73027"/>
<rect x="248.74" y="345.85" width="28.08" height="10.95" fill="#4575b4"/>
<rect x="220.96" y="356.50" width="28.08" height="10.95" fill="#d73027"/>
<rect x="248.74" y="356.50" width="28.08" height="10.95" fill="#4575b4"/>
<rect x="276.52" y="356.50" width="28.08" height="10.95" fill="#4575b4"/>
<rect x="165.40" y="367.14" width="28.08" height="10.95" fill="#4575b4"/>
<rect x="220.96" y="367.14" width="28.08" height="10.95" fill="#4575b4"/>
<rect x="248.74" y="367.14" width="28.08" height="10.95" fill="#4575b4"/>
<rect x="276.52" y="367.14" width="28.08" height="10.95" fill="#fffbb9"/>
<rect x="193.18" y="377.78" width="28.08" height="10.95" fill="#d73027"/>
<rect x="220.96" y="377.78" width="28.08" height="10.95" fill="#ffffbf"/>
<rect x="248.74" y="377.78" width="28.08" height="10.95" fill="#d73027"/>
<rect x="276.52" y="377.78" width="28.08" height="10.95" fill="#4575b4"/>
<rect x="165.40" y="388.43" width="28.08" height="10.95" fill="#d73027"/>
<rect x="220.96" y="388.43" width="28.08" height="10.95" fill="#fecf85"/>
<rect x="248.74" y="388.43" width="28.08" height="10.95" fill="#fede8f"/>
<rect x="276.52" y="388.43" width="28.08" height="10.95" fill="#fee79a"/>
<rect x="220.96" y="399.07" width="28.08" height="10.95" fill="#4575b4"/>
<rect x="248.74" y="399.07" width="28.08" height="10.95" fill="#d73027"/>
<rect x="220.96" y="409.72" width="28.08" height="10.95" fill="#4575b4"/>
<rect x="276.52" y="409.72" width="28.08" height="10.95" fill="#4575b4"/>
<rect x="193.18" y="420.37" width="28.08" height="10.95" fill="#4575b4"/>
<rect x="220.96" y="420.37" width="28.08" height="10.95" fill="#d73027"/>
<rect x="276.52" y="420.37" width="28.08" height="10.95" fill="#d73027"/>
<rect x="165.40" y="431.01" width="28.08" height="10.95" fill="#4575b4"/>
<rect x="220.96" y="431.01" width="28.08" height="10.95" fill="#d73027"/>
<rect x="248.74" y="431.01" width="28.08" height="10.95" fill="#fdb674"/>
<rect x="276.52" y="431.01" width="28.08" height="10.95" fill="#d73027"/>
<rect x="193.18" y="441.65" width="28.08" height="10.95" fill="#fff8b4"/>
<rect x="220.96" y="441.65" width="28.08" height="10.95" fill="#d73027"/>
<rect x="248.74" y="441.65" width="28.08" height="10.95" fill="#fff9b7"/>
<rect x="165.40" y="452.30" width="28.08" height="10.95" fill="#d73027"/>
<rect x="193.18" y="452.30" width="28.08" height="10.95" fill="#fee598"/>
<rect x="220.96" y="452.30" width="28.08" height="10.95" fill="#fc945d"/>
<rect x="248.74" y="452.30" width="28.08" height="10.95" fill="#d73027"/>
<rect x="165.40" y="462.94" width="28.08" height="10.95" fill="#4575b4"/>
<rect x="193.18" y="462.94" width="28.08" height="10.95" fill="#fffbb9"/>
<rect x="248.74" y="462.94" width="28.08" height="10.95" fill="#d73027"/>
<rect x="165.40" y="473.59" width="28.08" height="10.95" fill="#d73027"/>
<rect x="193.18" y="473.59" width="28.08" height="10.95" fill="#def2f7"/>
<rect x="220.96" y="473.59" width="28.08" height="10.95" fill="#fc8f5a"/>
<rect x="248.74" y="473.59" width="28.08" height="10.95" fill="#fb8957"/>
<rect x="276.52" y="473.59" width="28.08" height="10.95" fill="#fc8f5a"/>
<rect x="165.40" y="484.23" width="28.08" height="10.95" fill="#4575b4"/>
<rect x="193.18" y="484.23" width="28.08" height="10.95" fill="#d73027"/>
<rect x="220.96" y="484.23" width="28.08" height="10.95" fill="#d73027"/>
<rect x="248.74" y="484.23" width="28.08" height="10.95" fill="#fff6b1"/>
<rect x="276.52" y="484.23" width="28.08" height="10.95" fill="#fc9e64"/>
<rect x="165.40" y="494.88" width="28.08" height="10.95" fill="#fffdbc"/>
<rect x="193.18" y="494.88" width="28.08" height="10.95" fill="#feeba0"/>
<rect x="220.96" y="494.88" width="28.08" height="10.95" fill="#d73027"/>
<rect x="248.74" y="494.88" width="28.08" height="10.95" fill="#d73027"/>
<rect x="276.52" y="494.88" width="28.08" height="10.95" fill="#d73027"/>
<rect x="220.96" y="505.52" width="28.08" height="10.95" fill="#d73027"/>
<rect x="248.74" y="505.52" width="28.08" height="10.95" fill="#d73027"/>
<rect x="276.52" y="505.52" width="28.08" height="10.95" fill="#fc945d"/>
<rect x="165.40" y="516.17" width="28.08" height="10.95" fill="#d73027"/>
<rect x="193.18" y="516.17" width="28.08" height="10.95" fill="#fed98c"/>
<rect x="220.96" y="516.17" width="28.08" height="10.95" fill="#fdb674"/>
<rect x="248.74" y="516.17" width="28.08" height="10.95" fill="#fc8f5a"/>
<rect x="276.52" y="516.17" width="28.08" height="10.95" fill="#fede8f"/>
<rect x="165.40" y="526.82" width="28.08" height="10.95" fill="#d73027"/>
<rect x="193.18" y="526.82" width="28.08" height="10.95" fill="#d73027"/>
<rect x="248.74" y="526.82" width="28.08" height="10.95" fill="#d73027"/>
<rect x="276.52" y="526.82" width="28.08" height="10.95" fill="#d73027"/>
<rect x="193.18" y="537.46" width="28.08" height="10.95" fill="#d73027"/>
<rect x="248.74" y="537.46" width="28.08" height="10.95" fill="#4575b4"/>
<rect x="248.74" y="548.11" width="28.08" height="10.95" fill="#4575b4"/>
<rect x="276.52" y="548.11" width="28.08" height="10.95" fill="#fdb674"/>
<rect x="220.96" y="558.75" width="28.08" height="10.95" fill="#d73027"/>
<rect x="276.52" y="558.75" width="28.08" height="10.95" fill="#d73027"/>
<rect x="165.40" y="569.39" width="28.08" height="10.95" fill="#d73027"/>
<rect x="248.74" y="569.39" width="28.08" height="10.95" fill="#fffdbc"/>
<rect x="276.52" y="569.39" width="28.08" height="10.95" fill="#d73027"/>
</g>
<g fill="none" stroke="#0a0a0a" stroke-width="2.4" stroke-linejoin="round">
<rect x="276.52" y="26.50" width="27.78" height="10.64"/>
<rect x="248.74" y="47.79" width="27.78" height="10.64"/>
<rect x="248.74" y="58.44" width="27.78" height="10.64"/>
<rect x="165.40" y="228.75" width="27.78" height="10.64"/>
<rect x="193.18" y="281.98" width="27.78" height="10.64"/>
<rect x="248.74" y="292.62" width="27.78" height="10.64"/>
<rect x="248.74" y="303.27" width="27.78" height="10.64"/>
<rect x="276.52" y="303.27" width="27.78" height="10.64"/>
<rect x="248.74" y="313.91" width="27.78" height="10.64"/>
<rect x="248.74" y="324.56" width="27.78" height="10.64"/>
<rect x="220.96" y="335.20" width="27.78" height="10.64"/>
<rect x="220.96" y="356.50" width="27.78" height="10.64"/>
</g>
<g shape-rendering="crispEdges">
<rect x="317.00" y="26.50" width="28.16" height="10.95" fill="#4575b4"/>
<rect x="344.86" y="26.50" width="28.16" height="10.95" fill="#4575b4"/>
<rect x="372.72" y="26.50" width="28.16" height="10.95" fill="#4575b4"/>
<rect x="400.58" y="26.50" width="28.16" height="10.95" fill="#4575b4"/>
<rect x="428.44" y="26.50" width="28.16" height="10.95" fill="#4575b4"/>
<rect x="317.00" y="37.14" width="28.16" height="10.95" fill="#4575b4"/>
<rect x="344.86" y="37.14" width="28.16" height="10.95" fill="#4575b4"/>
<rect x="372.72" y="37.14" width="28.16" height="10.95" fill="#4575b4"/>
<rect x="400.58" y="37.14" width="28.16" height="10.95" fill="#4575b4"/>
<rect x="428.44" y="37.14" width="28.16" height="10.95" fill="#4575b4"/>
<rect x="317.00" y="47.79" width="28.16" height="10.95" fill="#4575b4"/>
<rect x="344.86" y="47.79" width="28.16" height="10.95" fill="#4575b4"/>
<rect x="372.72" y="47.79" width="28.16" height="10.95" fill="#4575b4"/>
<rect x="400.58" y="47.79" width="28.16" height="10.95" fill="#4575b4"/>
<rect x="428.44" y="47.79" width="28.16" height="10.95" fill="#4575b4"/>
<rect x="344.86" y="58.44" width="28.16" height="10.95" fill="#4575b4"/>
<rect x="372.72" y="58.44" width="28.16" height="10.95" fill="#4575b4"/>
<rect x="400.58" y="58.44" width="28.16" height="10.95" fill="#4575b4"/>
<rect x="428.44" y="58.44" width="28.16" height="10.95" fill="#d73027"/>
<rect x="317.00" y="69.08" width="28.16" height="10.95" fill="#4575b4"/>
<rect x="344.86" y="69.08" width="28.16" height="10.95" fill="#4575b4"/>
<rect x="372.72" y="69.08" width="28.16" height="10.95" fill="#4575b4"/>
<rect x="400.58" y="69.08" width="28.16" height="10.95" fill="#d0e9f2"/>
<rect x="428.44" y="69.08" width="28.16" height="10.95" fill="#d73027"/>
<rect x="317.00" y="79.72" width="28.16" height="10.95" fill="#4575b4"/>
<rect x="344.86" y="79.72" width="28.16" height="10.95" fill="#4575b4"/>
<rect x="372.72" y="79.72" width="28.16" height="10.95" fill="#4575b4"/>
<rect x="400.58" y="79.72" width="28.16" height="10.95" fill="#4575b4"/>
<rect x="428.44" y="79.72" width="28.16" height="10.95" fill="#fffdbc"/>
<rect x="317.00" y="90.37" width="28.16" height="10.95" fill="#4575b4"/>
<rect x="344.86" y="90.37" width="28.16" height="10.95" fill="#4575b4"/>
<rect x="372.72" y="90.37" width="28.16" height="10.95" fill="#4575b4"/>
<rect x="400.58" y="90.37" width="28.16" height="10.95" fill="#4575b4"/>
<rect x="428.44" y="90.37" width="28.16" height="10.95" fill="#aad0e4"/>
<rect x="344.86" y="101.02" width="28.16" height="10.95" fill="#4575b4"/>
<rect x="400.58" y="101.02" width="28.16" height="10.95" fill="#aad0e4"/>
<rect x="428.44" y="101.02" width="28.16" height="10.95" fill="#4575b4"/>
<rect x="400.58" y="111.66" width="28.16" height="10.95" fill="#4575b4"/>
<rect x="428.44" y="111.66" width="28.16" height="10.95" fill="#fff9b7"/>
<rect x="317.00" y="122.30" width="28.16" height="10.95" fill="#4575b4"/>
<rect x="344.86" y="122.30" width="28.16" height="10.95" fill="#4575b4"/>
<rect x="372.72" y="122.30" width="28.16" height="10.95" fill="#4575b4"/>
<rect x="400.58" y="122.30" width="28.16" height="10.95" fill="#7caad0"/>
<rect x="428.44" y="122.30" width="28.16" height="10.95" fill="#4575b4"/>
<rect x="400.58" y="132.95" width="28.16" height="10.95" fill="#d73027"/>
<rect x="428.44" y="132.95" width="28.16" height="10.95" fill="#fffbb9"/>
<rect x="317.00" y="143.59" width="28.16" height="10.95" fill="#6999c7"/>
<rect x="344.86" y="143.59" width="28.16" height="10.95" fill="#6999c7"/>
<rect x="372.72" y="143.59" width="28.16" height="10.95" fill="#4575b4"/>
<rect x="400.58" y="143.59" width="28.16" height="10.95" fill="#b8d9ea"/>
<rect x="317.00" y="154.24" width="28.16" height="10.95" fill="#4575b4"/>
<rect x="344.86" y="154.24" width="28.16" height="10.95" fill="#daeff6"/>
<rect x="372.72" y="154.24" width="28.16" height="10.95" fill="#4575b4"/>
<rect x="400.58" y="154.24" width="28.16" height="10.95" fill="#d73027"/>
<rect x="428.44" y="154.24" width="28.16" height="10.95" fill="#fff6b1"/>
<rect x="317.00" y="164.88" width="28.16" height="10.95" fill="#4575b4"/>
<rect x="344.86" y="164.88" width="28.16" height="10.95" fill="#c2dfed"/>
<rect x="372.72" y="164.88" width="28.16" height="10.95" fill="#fff9b7"/>
<rect x="400.58" y="164.88" width="28.16" height="10.95" fill="#fff9b7"/>
<rect x="428.44" y="164.88" width="28.16" height="10.95" fill="#fede8f"/>
<rect x="317.00" y="175.53" width="28.16" height="10.95" fill="#4575b4"/>
<rect x="344.86" y="175.53" width="28.16" height="10.95" fill="#d73027"/>
<rect x="372.72" y="175.53" width="28.16" height="10.95" fill="#d73027"/>
<rect x="400.58" y="175.53" width="28.16" height="10.95" fill="#d73027"/>
<rect x="428.44" y="175.53" width="28.16" height="10.95" fill="#fff6b1"/>
<rect x="317.00" y="186.17" width="28.16" height="10.95" fill="#a1c9e1"/>
<rect x="344.86" y="186.17" width="28.16" height="10.95" fill="#daeff6"/>
<rect x="372.72" y="186.17" width="28.16" height="10.95" fill="#c2dfed"/>
<rect x="400.58" y="186.17" width="28.16" height="10.95" fill="#d73027"/>
<rect x="428.44" y="186.17" width="28.16" height="10.95" fill="#d73027"/>
<rect x="317.00" y="196.82" width="28.16" height="10.95" fill="#d73027"/>
<rect x="372.72" y="196.82" width="28.16" height="10.95" fill="#d73027"/>
<rect x="400.58" y="196.82" width="28.16" height="10.95" fill="#d73027"/>
<rect x="317.00" y="207.47" width="28.16" height="10.95" fill="#d73027"/>
<rect x="344.86" y="207.47" width="28.16" height="10.95" fill="#d73027"/>
<rect x="400.58" y="207.47" width="28.16" height="10.95" fill="#4575b4"/>
<rect x="317.00" y="218.11" width="28.16" height="10.95" fill="#4575b4"/>
<rect x="344.86" y="218.11" width="28.16" height="10.95" fill="#c2dfed"/>
<rect x="372.72" y="218.11" width="28.16" height="10.95" fill="#fff6b1"/>
<rect x="400.58" y="218.11" width="28.16" height="10.95" fill="#e7f6eb"/>
<rect x="428.44" y="218.11" width="28.16" height="10.95" fill="#feeca3"/>
<rect x="317.00" y="228.75" width="28.16" height="10.95" fill="#4575b4"/>
<rect x="344.86" y="228.75" width="28.16" height="10.95" fill="#d73027"/>
<rect x="372.72" y="228.75" width="28.16" height="10.95" fill="#feeca3"/>
<rect x="400.58" y="228.75" width="28.16" height="10.95" fill="#b4d6e8"/>
<rect x="428.44" y="228.75" width="28.16" height="10.95" fill="#d73027"/>
<rect x="317.00" y="239.40" width="28.16" height="10.95" fill="#4575b4"/>
<rect x="344.86" y="239.40" width="28.16" height="10.95" fill="#d73027"/>
<rect x="372.72" y="239.40" width="28.16" height="10.95" fill="#d73027"/>
<rect x="400.58" y="239.40" width="28.16" height="10.95" fill="#d73027"/>
<rect x="428.44" y="239.40" width="28.16" height="10.95" fill="#def2f7"/>
<rect x="344.86" y="250.04" width="28.16" height="10.95" fill="#d73027"/>
<rect x="372.72" y="250.04" width="28.16" height="10.95" fill="#d73027"/>
<rect x="400.58" y="250.04" width="28.16" height="10.95" fill="#d73027"/>
<rect x="428.44" y="250.04" width="28.16" height="10.95" fill="#d73027"/>
<rect x="317.00" y="260.69" width="28.16" height="10.95" fill="#d0e9f2"/>
<rect x="344.86" y="260.69" width="28.16" height="10.95" fill="#fdbb78"/>
<rect x="372.72" y="260.69" width="28.16" height="10.95" fill="#fede8f"/>
<rect x="400.58" y="260.69" width="28.16" height="10.95" fill="#fecf85"/>
<rect x="428.44" y="260.69" width="28.16" height="10.95" fill="#fda367"/>
<rect x="317.00" y="271.33" width="28.16" height="10.95" fill="#d73027"/>
<rect x="372.72" y="271.33" width="28.16" height="10.95" fill="#d73027"/>
<rect x="400.58" y="271.33" width="28.16" height="10.95" fill="#d73027"/>
<rect x="428.44" y="271.33" width="28.16" height="10.95" fill="#d73027"/>
<rect x="344.86" y="281.98" width="28.16" height="10.95" fill="#4575b4"/>
<rect x="428.44" y="281.98" width="28.16" height="10.95" fill="#4575b4"/>
<rect x="372.72" y="292.62" width="28.16" height="10.95" fill="#4575b4"/>
<rect x="400.58" y="292.62" width="28.16" height="10.95" fill="#4575b4"/>
<rect x="344.86" y="303.27" width="28.16" height="10.95" fill="#4575b4"/>
<rect x="400.58" y="303.27" width="28.16" height="10.95" fill="#4575b4"/>
<rect x="428.44" y="303.27" width="28.16" height="10.95" fill="#e5f5ef"/>
<rect x="317.00" y="313.91" width="28.16" height="10.95" fill="#4575b4"/>
<rect x="372.72" y="313.91" width="28.16" height="10.95" fill="#4575b4"/>
<rect x="400.58" y="313.91" width="28.16" height="10.95" fill="#4575b4"/>
<rect x="428.44" y="313.91" width="28.16" height="10.95" fill="#4575b4"/>
<rect x="317.00" y="324.56" width="28.16" height="10.95" fill="#4575b4"/>
<rect x="400.58" y="324.56" width="28.16" height="10.95" fill="#4575b4"/>
<rect x="317.00" y="335.20" width="28.16" height="10.95" fill="#4575b4"/>
<rect x="372.72" y="335.20" width="28.16" height="10.95" fill="#4575b4"/>
<rect x="400.58" y="335.20" width="28.16" height="10.95" fill="#fffdbc"/>
<rect x="317.00" y="345.85" width="28.16" height="10.95" fill="#4575b4"/>
<rect x="344.86" y="345.85" width="28.16" height="10.95" fill="#d73027"/>
<rect x="372.72" y="345.85" width="28.16" height="10.95" fill="#d73027"/>
<rect x="400.58" y="345.85" width="28.16" height="10.95" fill="#4575b4"/>
<rect x="372.72" y="356.50" width="28.16" height="10.95" fill="#4575b4"/>
<rect x="400.58" y="356.50" width="28.16" height="10.95" fill="#d73027"/>
<rect x="428.44" y="356.50" width="28.16" height="10.95" fill="#d73027"/>
<rect x="317.00" y="367.14" width="28.16" height="10.95" fill="#4575b4"/>
<rect x="372.72" y="367.14" width="28.16" height="10.95" fill="#4575b4"/>
<rect x="400.58" y="367.14" width="28.16" height="10.95" fill="#fff8b4"/>
<rect x="428.44" y="367.14" width="28.16" height="10.95" fill="#d73027"/>
<rect x="344.86" y="377.78" width="28.16" height="10.95" fill="#d73027"/>
<rect x="372.72" y="377.78" width="28.16" height="10.95" fill="#fffdbc"/>
<rect x="400.58" y="377.78" width="28.16" height="10.95" fill="#d73027"/>
<rect x="428.44" y="377.78" width="28.16" height="10.95" fill="#d73027"/>
<rect x="317.00" y="388.43" width="28.16" height="10.95" fill="#d73027"/>
<rect x="372.72" y="388.43" width="28.16" height="10.95" fill="#feeca3"/>
<rect x="400.58" y="388.43" width="28.16" height="10.95" fill="#fc8f5a"/>
<rect x="428.44" y="388.43" width="28.16" height="10.95" fill="#d73027"/>
<rect x="372.72" y="399.07" width="28.16" height="10.95" fill="#d73027"/>
<rect x="400.58" y="399.07" width="28.16" height="10.95" fill="#d73027"/>
<rect x="372.72" y="409.72" width="28.16" height="10.95" fill="#4575b4"/>
<rect x="428.44" y="409.72" width="28.16" height="10.95" fill="#fffdbc"/>
<rect x="344.86" y="420.37" width="28.16" height="10.95" fill="#4575b4"/>
<rect x="372.72" y="420.37" width="28.16" height="10.95" fill="#4575b4"/>
<rect x="428.44" y="420.37" width="28.16" height="10.95" fill="#d73027"/>
<rect x="317.00" y="431.01" width="28.16" height="10.95" fill="#4575b4"/>
<rect x="372.72" y="431.01" width="28.16" height="10.95" fill="#d73027"/>
<rect x="400.58" y="431.01" width="28.16" height="10.95" fill="#d73027"/>
<rect x="428.44" y="431.01" width="28.16" height="10.95" fill="#d73027"/>
<rect x="344.86" y="441.65" width="28.16" height="10.95" fill="#d73027"/>
<rect x="372.72" y="441.65" width="28.16" height="10.95" fill="#d73027"/>
<rect x="400.58" y="441.65" width="28.16" height="10.95" fill="#d73027"/>
<rect x="317.00" y="452.30" width="28.16" height="10.95" fill="#fffdbc"/>
<rect x="344.86" y="452.30" width="28.16" height="10.95" fill="#f88454"/>
<rect x="372.72" y="452.30" width="28.16" height="10.95" fill="#d73027"/>
<rect x="400.58" y="452.30" width="28.16" height="10.95" fill="#d73027"/>
<rect x="317.00" y="462.94" width="28.16" height="10.95" fill="#fffdbc"/>
<rect x="344.86" y="462.94" width="28.16" height="10.95" fill="#d73027"/>
<rect x="400.58" y="462.94" width="28.16" height="10.95" fill="#d73027"/>
<rect x="317.00" y="473.59" width="28.16" height="10.95" fill="#d73027"/>
<rect x="344.86" y="473.59" width="28.16" height="10.95" fill="#d73027"/>
<rect x="372.72" y="473.59" width="28.16" height="10.95" fill="#fede8f"/>
<rect x="400.58" y="473.59" width="28.16" height="10.95" fill="#d73027"/>
<rect x="428.44" y="473.59" width="28.16" height="10.95" fill="#d73027"/>
<rect x="317.00" y="484.23" width="28.16" height="10.95" fill="#d73027"/>
<rect x="344.86" y="484.23" width="28.16" height="10.95" fill="#d73027"/>
<rect x="372.72" y="484.23" width="28.16" height="10.95" fill="#d73027"/>
<rect x="400.58" y="484.23" width="28.16" height="10.95" fill="#d73027"/>
<rect x="428.44" y="484.23" width="28.16" height="10.95" fill="#d73027"/>
<rect x="317.00" y="494.88" width="28.16" height="10.95" fill="#fff9b7"/>
<rect x="344.86" y="494.88" width="28.16" height="10.95" fill="#d73027"/>
<rect x="372.72" y="494.88" width="28.16" height="10.95" fill="#d73027"/>
<rect x="400.58" y="494.88" width="28.16" height="10.95" fill="#d73027"/>
<rect x="428.44" y="494.88" width="28.16" height="10.95" fill="#d73027"/>
<rect x="372.72" y="505.52" width="28.16" height="10.95" fill="#d73027"/>
<rect x="400.58" y="505.52" width="28.16" height="10.95" fill="#d73027"/>
<rect x="428.44" y="505.52" width="28.16" height="10.95" fill="#d73027"/>
<rect x="317.00" y="516.17" width="28.16" height="10.95" fill="#d73027"/>
<rect x="344.86" y="516.17" width="28.16" height="10.95" fill="#d73027"/>
<rect x="372.72" y="516.17" width="28.16" height="10.95" fill="#d73027"/>
<rect x="400.58" y="516.17" width="28.16" height="10.95" fill="#d73027"/>
<rect x="428.44" y="516.17" width="28.16" height="10.95" fill="#d73027"/>
<rect x="317.00" y="526.82" width="28.16" height="10.95" fill="#d73027"/>
<rect x="344.86" y="526.82" width="28.16" height="10.95" fill="#d73027"/>
<rect x="400.58" y="526.82" width="28.16" height="10.95" fill="#d73027"/>
<rect x="428.44" y="526.82" width="28.16" height="10.95" fill="#d73027"/>
<rect x="344.86" y="537.46" width="28.16" height="10.95" fill="#4575b4"/>
<rect x="400.58" y="537.46" width="28.16" height="10.95" fill="#d73027"/>
<rect x="400.58" y="548.11" width="28.16" height="10.95" fill="#4575b4"/>
<rect x="428.44" y="548.11" width="28.16" height="10.95" fill="#fdb674"/>
<rect x="372.72" y="558.75" width="28.16" height="10.95" fill="#d73027"/>
<rect x="428.44" y="558.75" width="28.16" height="10.95" fill="#def2f7"/>
<rect x="317.00" y="569.39" width="28.16" height="10.95" fill="#4575b4"/>
<rect x="400.58" y="569.39" width="28.16" height="10.95" fill="#fffdbc"/>
<rect x="428.44" y="569.39" width="28.16" height="10.95" fill="#d73027"/>
</g>
<g fill="none" stroke="#0a0a0a" stroke-width="2.4" stroke-linejoin="round">
<rect x="428.44" y="26.50" width="27.86" height="10.64"/>
<rect x="400.58" y="47.79" width="27.86" height="10.64"/>
<rect x="400.58" y="58.44" width="27.86" height="10.64"/>
<rect x="317.00" y="228.75" width="27.86" height="10.64"/>
<rect x="344.86" y="281.98" width="27.86" height="10.64"/>
<rect x="400.58" y="292.62" width="27.86" height="10.64"/>
<rect x="400.58" y="303.27" width="27.86" height="10.64"/>
<rect x="428.44" y="303.27" width="27.86" height="10.64"/>
<rect x="400.58" y="313.91" width="27.86" height="10.64"/>
<rect x="400.58" y="324.56" width="27.86" height="10.64"/>
<rect x="372.72" y="335.20" width="27.86" height="10.64"/>
<rect x="372.72" y="356.50" width="27.86" height="10.64"/>
</g>
<g shape-rendering="crispEdges">
<rect x="469.00" y="26.50" width="28.10" height="10.95" fill="#4575b4"/>
<rect x="496.80" y="26.50" width="28.10" height="10.95" fill="#a1c9e1"/>
<rect x="524.60" y="26.50" width="28.10" height="10.95" fill="#4575b4"/>
<rect x="552.40" y="26.50" width="28.10" height="10.95" fill="#4575b4"/>
<rect x="580.20" y="26.50" width="28.10" height="10.95" fill="#d73027"/>
<rect x="469.00" y="37.14" width="28.10" height="10.95" fill="#4575b4"/>
<rect x="496.80" y="37.14" width="28.10" height="10.95" fill="#4575b4"/>
<rect x="524.60" y="37.14" width="28.10" height="10.95" fill="#4575b4"/>
<rect x="552.40" y="37.14" width="28.10" height="10.95" fill="#4575b4"/>
<rect x="580.20" y="37.14" width="28.10" height="10.95" fill="#4575b4"/>
<rect x="469.00" y="47.79" width="28.10" height="10.95" fill="#4575b4"/>
<rect x="496.80" y="47.79" width="28.10" height="10.95" fill="#4575b4"/>
<rect x="524.60" y="47.79" width="28.10" height="10.95" fill="#4575b4"/>
<rect x="552.40" y="47.79" width="28.10" height="10.95" fill="#d73027"/>
<rect x="580.20" y="47.79" width="28.10" height="10.95" fill="#4575b4"/>
<rect x="496.80" y="58.44" width="28.10" height="10.95" fill="#4575b4"/>
<rect x="524.60" y="58.44" width="28.10" height="10.95" fill="#4575b4"/>
<rect x="552.40" y="58.44" width="28.10" height="10.95" fill="#d73027"/>
<rect x="580.20" y="58.44" width="28.10" height="10.95" fill="#d73027"/>
<rect x="469.00" y="69.08" width="28.10" height="10.95" fill="#4575b4"/>
<rect x="496.80" y="69.08" width="28.10" height="10.95" fill="#feeca3"/>
<rect x="524.60" y="69.08" width="28.10" height="10.95" fill="#aad0e4"/>
<rect x="552.40" y="69.08" width="28.10" height="10.95" fill="#d5ecf4"/>
<rect x="580.20" y="69.08" width="28.10" height="10.95" fill="#d73027"/>
<rect x="469.00" y="79.72" width="28.10" height="10.95" fill="#fffdbc"/>
<rect x="496.80" y="79.72" width="28.10" height="10.95" fill="#4575b4"/>
<rect x="524.60" y="79.72" width="28.10" height="10.95" fill="#93c0dc"/>
<rect x="552.40" y="79.72" width="28.10" height="10.95" fill="#4575b4"/>
<rect x="580.20" y="79.72" width="28.10" height="10.95" fill="#fbfec6"/>
<rect x="469.00" y="90.37" width="28.10" height="10.95" fill="#4575b4"/>
<rect x="496.80" y="90.37" width="28.10" height="10.95" fill="#4575b4"/>
<rect x="524.60" y="90.37" width="28.10" height="10.95" fill="#aad0e4"/>
<rect x="552.40" y="90.37" width="28.10" height="10.95" fill="#e1f3f6"/>
<rect x="580.20" y="90.37" width="28.10" height="10.95" fill="#fbfec6"/>
<rect x="496.80" y="101.02" width="28.10" height="10.95" fill="#4575b4"/>
<rect x="552.40" y="101.02" width="28.10" height="10.95" fill="#f6fbd0"/>
<rect x="580.20" y="101.02" width="28.10" height="10.95" fill="#4575b4"/>
<rect x="552.40" y="111.66" width="28.10" height="10.95" fill="#fffdbc"/>
<rect x="580.20" y="111.66" width="28.10" height="10.95" fill="#fffdbc"/>
<rect x="469.00" y="122.30" width="28.10" height="10.95" fill="#4575b4"/>
<rect x="496.80" y="122.30" width="28.10" height="10.95" fill="#a6cde3"/>
<rect x="524.60" y="122.30" width="28.10" height="10.95" fill="#fffdbc"/>
<rect x="552.40" y="122.30" width="28.10" height="10.95" fill="#fffdbc"/>
<rect x="580.20" y="122.30" width="28.10" height="10.95" fill="#4575b4"/>
<rect x="552.40" y="132.95" width="28.10" height="10.95" fill="#fffdbc"/>
<rect x="580.20" y="132.95" width="28.10" height="10.95" fill="#fffdbc"/>
<rect x="469.00" y="143.59" width="28.10" height="10.95" fill="#a1c9e1"/>
<rect x="496.80" y="143.59" width="28.10" height="10.95" fill="#fffdbc"/>
<rect x="524.60" y="143.59" width="28.10" height="10.95" fill="#b4d6e8"/>
<rect x="552.40" y="143.59" width="28.10" height="10.95" fill="#ffffbf"/>
<rect x="469.00" y="154.24" width="28.10" height="10.95" fill="#4575b4"/>
<rect x="496.80" y="154.24" width="28.10" height="10.95" fill="#93c0dc"/>
<rect x="524.60" y="154.24" width="28.10" height="10.95" fill="#f4794e"/>
<rect x="552.40" y="154.24" width="28.10" height="10.95" fill="#daeff6"/>
<rect x="580.20" y="154.24" width="28.10" height="10.95" fill="#4575b4"/>
<rect x="469.00" y="164.88" width="28.10" height="10.95" fill="#d5ecf4"/>
<rect x="496.80" y="164.88" width="28.10" height="10.95" fill="#b8d9ea"/>
<rect x="524.60" y="164.88" width="28.10" height="10.95" fill="#fff9b7"/>
<rect x="552.40" y="164.88" width="28.10" height="10.95" fill="#b8d9ea"/>
<rect x="580.20" y="164.88" width="28.10" height="10.95" fill="#d73027"/>
<rect x="469.00" y="175.53" width="28.10" height="10.95" fill="#fff6b1"/>
<rect x="496.80" y="175.53" width="28.10" height="10.95" fill="#d73027"/>
<rect x="524.60" y="175.53" width="28.10" height="10.95" fill="#fff6b1"/>
<rect x="552.40" y="175.53" width="28.10" height="10.95" fill="#d73027"/>
<rect x="580.20" y="175.53" width="28.10" height="10.95" fill="#fff6b1"/>
<rect x="469.00" y="186.17" width="28.10" height="10.95" fill="#b4d6e8"/>
<rect x="496.80" y="186.17" width="28.10" height="10.95" fill="#fff6b1"/>
<rect x="524.60" y="186.17" width="28.10" height="10.95" fill="#89b8d7"/>
<rect x="552.40" y="186.17" width="28.10" height="10.95" fill="#daeff6"/>
<rect x="580.20" y="186.17" width="28.10" height="10.95" fill="#d73027"/>
<rect x="469.00" y="196.82" width="28.10" height="10.95" fill="#4575b4"/>
<rect x="524.60" y="196.82" width="28.10" height="10.95" fill="#d73027"/>
<rect x="552.40" y="196.82" width="28.10" height="10.95" fill="#d73027"/>
<rect x="469.00" y="207.47" width="28.10" height="10.95" fill="#d73027"/>
<rect x="496.80" y="207.47" width="28.10" height="10.95" fill="#d73027"/>
<rect x="552.40" y="207.47" width="28.10" height="10.95" fill="#d73027"/>
<rect x="469.00" y="218.11" width="28.10" height="10.95" fill="#b4d6e8"/>
<rect x="496.80" y="218.11" width="28.10" height="10.95" fill="#fdc57e"/>
<rect x="524.60" y="218.11" width="28.10" height="10.95" fill="#e5f5ef"/>
<rect x="552.40" y="218.11" width="28.10" height="10.95" fill="#daeff6"/>
<rect x="580.20" y="218.11" width="28.10" height="10.95" fill="#f4fbd4"/>
<rect x="469.00" y="228.75" width="28.10" height="10.95" fill="#d73027"/>
<rect x="496.80" y="228.75" width="28.10" height="10.95" fill="#fff6b1"/>
<rect x="524.60" y="228.75" width="28.10" height="10.95" fill="#feeca3"/>
<rect x="552.40" y="228.75" width="28.10" height="10.95" fill="#fff6b1"/>
<rect x="580.20" y="228.75" width="28.10" height="10.95" fill="#fc9961"/>
<rect x="469.00" y="239.40" width="28.10" height="10.95" fill="#4575b4"/>
<rect x="496.80" y="239.40" width="28.10" height="10.95" fill="#d73027"/>
<rect x="524.60" y="239.40" width="28.10" height="10.95" fill="#d73027"/>
<rect x="552.40" y="239.40" width="28.10" height="10.95" fill="#d73027"/>
<rect x="580.20" y="239.40" width="28.10" height="10.95" fill="#fede8f"/>
<rect x="496.80" y="250.04" width="28.10" height="10.95" fill="#d73027"/>
<rect x="524.60" y="250.04" width="28.10" height="10.95" fill="#d73027"/>
<rect x="552.40" y="250.04" width="28.10" height="10.95" fill="#d73027"/>
<rect x="580.20" y="250.04" width="28.10" height="10.95" fill="#d73027"/>
<rect x="469.00" y="260.69" width="28.10" height="10.95" fill="#d5ecf4"/>
<rect x="496.80" y="260.69" width="28.10" height="10.95" fill="#fbfec6"/>
<rect x="524.60" y="260.69" width="28.10" height="10.95" fill="#bddceb"/>
<rect x="552.40" y="260.69" width="28.10" height="10.95" fill="#fecf85"/>
<rect x="580.20" y="260.69" width="28.10" height="10.95" fill="#fda86b"/>
<rect x="469.00" y="271.33" width="28.10" height="10.95" fill="#4575b4"/>
<rect x="524.60" y="271.33" width="28.10" height="10.95" fill="#d73027"/>
<rect x="552.40" y="271.33" width="28.10" height="10.95" fill="#d73027"/>
<rect x="580.20" y="271.33" width="28.10" height="10.95" fill="#4575b4"/>
<rect x="496.80" y="281.98" width="28.10" height="10.95" fill="#d73027"/>
<rect x="580.20" y="281.98" width="28.10" height="10.95" fill="#4575b4"/>
<rect x="524.60" y="292.62" width="28.10" height="10.95" fill="#4575b4"/>
<rect x="552.40" y="292.62" width="28.10" height="10.95" fill="#d73027"/>
<rect x="496.80" y="303.27" width="28.10" height="10.95" fill="#4575b4"/>
<rect x="552.40" y="303.27" width="28.10" height="10.95" fill="#d73027"/>
<rect x="580.20" y="303.27" width="28.10" height="10.95" fill="#d73027"/>
<rect x="469.00" y="313.91" width="28.10" height="10.95" fill="#4575b4"/>
<rect x="524.60" y="313.91" width="28.10" height="10.95" fill="#4575b4"/>
<rect x="552.40" y="313.91" width="28.10" height="10.95" fill="#ffffbf"/>
<rect x="580.20" y="313.91" width="28.10" height="10.95" fill="#4575b4"/>
<rect x="469.00" y="324.56" width="28.10" height="10.95" fill="#b4d6e8"/>
<rect x="552.40" y="324.56" width="28.10" height="10.95" fill="#d73027"/>
<rect x="469.00" y="335.20" width="28.10" height="10.95" fill="#4575b4"/>
<rect x="524.60" y="335.20" width="28.10" height="10.95" fill="#d73027"/>
<rect x="552.40" y="335.20" width="28.10" height="10.95" fill="#4575b4"/>
<rect x="469.00" y="345.85" width="28.10" height="10.95" fill="#4575b4"/>
<rect x="496.80" y="345.85" width="28.10" height="10.95" fill="#4575b4"/>
<rect x="524.60" y="345.85" width="28.10" height="10.95" fill="#d73027"/>
<rect x="552.40" y="345.85" width="28.10" height="10.95" fill="#4575b4"/>
<rect x="524.60" y="356.50" width="28.10" height="10.95" fill="#d73027"/>
<rect x="552.40" y="356.50" width="28.10" height="10.95" fill="#4575b4"/>
<rect x="580.20" y="356.50" width="28.10" height="10.95" fill="#4575b4"/>
<rect x="469.00" y="367.14" width="28.10" height="10.95" fill="#4575b4"/>
<rect x="524.60" y="367.14" width="28.10" height="10.95" fill="#4575b4"/>
<rect x="552.40" y="367.14" width="28.10" height="10.95" fill="#fff6b1"/>
<rect x="580.20" y="367.14" width="28.10" height="10.95" fill="#fff6b1"/>
<rect x="496.80" y="377.78" width="28.10" height="10.95" fill="#d73027"/>
<rect x="524.60" y="377.78" width="28.10" height="10.95" fill="#fff9b7"/>
<rect x="552.40" y="377.78" width="28.10" height="10.95" fill="#d73027"/>
<rect x="580.20" y="377.78" width="28.10" height="10.95" fill="#4575b4"/>
<rect x="469.00" y="388.43" width="28.10" height="10.95" fill="#d73027"/>
<rect x="524.60" y="388.43" width="28.10" height="10.95" fill="#fede8f"/>
<rect x="552.40" y="388.43" width="28.10" height="10.95" fill="#c2dfed"/>
<rect x="580.20" y="388.43" width="28.10" height="10.95" fill="#fecf85"/>
<rect x="524.60" y="399.07" width="28.10" height="10.95" fill="#4575b4"/>
<rect x="552.40" y="399.07" width="28.10" height="10.95" fill="#d73027"/>
<rect x="524.60" y="409.72" width="28.10" height="10.95" fill="#4575b4"/>
<rect x="580.20" y="409.72" width="28.10" height="10.95" fill="#4575b4"/>
<rect x="496.80" y="420.37" width="28.10" height="10.95" fill="#4575b4"/>
<rect x="524.60" y="420.37" width="28.10" height="10.95" fill="#d73027"/>
<rect x="580.20" y="420.37" width="28.10" height="10.95" fill="#d73027"/>
<rect x="469.00" y="431.01" width="28.10" height="10.95" fill="#4575b4"/>
<rect x="524.60" y="431.01" width="28.10" height="10.95" fill="#d73027"/>
<rect x="552.40" y="431.01" width="28.10" height="10.95" fill="#fdb674"/>
<rect x="580.20" y="431.01" width="28.10" height="10.95" fill="#d73027"/>
<rect x="496.80" y="441.65" width="28.10" height="10.95" fill="#4575b4"/>
<rect x="524.60" y="441.65" width="28.10" height="10.95" fill="#4575b4"/>
<rect x="552.40" y="441.65" width="28.10" height="10.95" fill="#fff6b1"/>
<rect x="469.00" y="452.30" width="28.10" height="10.95" fill="#d73027"/>
<rect x="496.80" y="452.30" width="28.10" height="10.95" fill="#f4794e"/>
<rect x="524.60" y="452.30" width="28.10" height="10.95" fill="#d73027"/>
<rect x="552.40" y="452.30" width="28.10" height="10.95" fill="#d73027"/>
<rect x="469.00" y="462.94" width="28.10" height="10.95" fill="#fff6b1"/>
<rect x="496.80" y="462.94" width="28.10" height="10.95" fill="#fff6b1"/>
<rect x="552.40" y="462.94" width="28.10" height="10.95" fill="#d73027"/>
<rect x="469.00" y="473.59" width="28.10" height="10.95" fill="#4575b4"/>
<rect x="496.80" y="473.59" width="28.10" height="10.95" fill="#def2f7"/>
<rect x="524.60" y="473.59" width="28.10" height="10.95" fill="#d73027"/>
<rect x="552.40" y="473.59" width="28.10" height="10.95" fill="#d73027"/>
<rect x="580.20" y="473.59" width="28.10" height="10.95" fill="#f2734b"/>
<rect x="469.00" y="484.23" width="28.10" height="10.95" fill="#d73027"/>
<rect x="496.80" y="484.23" width="28.10" height="10.95" fill="#d73027"/>
<rect x="524.60" y="484.23" width="28.10" height="10.95" fill="#d73027"/>
<rect x="552.40" y="484.23" width="28.10" height="10.95" fill="#fdb674"/>
<rect x="580.20" y="484.23" width="28.10" height="10.95" fill="#ed6845"/>
<rect x="469.00" y="494.88" width="28.10" height="10.95" fill="#fff6b1"/>
<rect x="496.80" y="494.88" width="28.10" height="10.95" fill="#d73027"/>
<rect x="524.60" y="494.88" width="28.10" height="10.95" fill="#d73027"/>
<rect x="552.40" y="494.88" width="28.10" height="10.95" fill="#d73027"/>
<rect x="580.20" y="494.88" width="28.10" height="10.95" fill="#d73027"/>
<rect x="524.60" y="505.52" width="28.10" height="10.95" fill="#d73027"/>
<rect x="552.40" y="505.52" width="28.10" height="10.95" fill="#d73027"/>
<rect x="580.20" y="505.52" width="28.10" height="10.95" fill="#d73027"/>
<rect x="469.00" y="516.17" width="28.10" height="10.95" fill="#d73027"/>
<rect x="496.80" y="516.17" width="28.10" height="10.95" fill="#fed98c"/>
<rect x="524.60" y="516.17" width="28.10" height="10.95" fill="#fdb674"/>
<rect x="552.40" y="516.17" width="28.10" height="10.95" fill="#fc8f5a"/>
<rect x="580.20" y="516.17" width="28.10" height="10.95" fill="#fede8f"/>
<rect x="469.00" y="526.82" width="28.10" height="10.95" fill="#d73027"/>
<rect x="496.80" y="526.82" width="28.10" height="10.95" fill="#d73027"/>
<rect x="552.40" y="526.82" width="28.10" height="10.95" fill="#fff9b7"/>
<rect x="580.20" y="526.82" width="28.10" height="10.95" fill="#d73027"/>
<rect x="496.80" y="537.46" width="28.10" height="10.95" fill="#d73027"/>
<rect x="552.40" y="537.46" width="28.10" height="10.95" fill="#4575b4"/>
<rect x="552.40" y="548.11" width="28.10" height="10.95" fill="#4575b4"/>
<rect x="580.20" y="548.11" width="28.10" height="10.95" fill="#fff9b7"/>
<rect x="524.60" y="558.75" width="28.10" height="10.95" fill="#d73027"/>
<rect x="580.20" y="558.75" width="28.10" height="10.95" fill="#d73027"/>
<rect x="469.00" y="569.39" width="28.10" height="10.95" fill="#d73027"/>
<rect x="552.40" y="569.39" width="28.10" height="10.95" fill="#d73027"/>
<rect x="580.20" y="569.39" width="28.10" height="10.95" fill="#d73027"/>
</g>
<g fill="none" stroke="#0a0a0a" stroke-width="2.4" stroke-linejoin="round">
<rect x="580.20" y="26.50" width="27.80" height="10.64"/>
<rect x="552.40" y="47.79" width="27.80" height="10.64"/>
<rect x="552.40" y="58.44" width="27.80" height="10.64"/>
<rect x="469.00" y="228.75" width="27.80" height="10.64"/>
<rect x="496.80" y="281.98" width="27.80" height="10.64"/>
<rect x="552.40" y="292.62" width="27.80" height="10.64"/>
<rect x="552.40" y="303.27" width="27.80" height="10.64"/>
<rect x="580.20" y="303.27" width="27.80" height="10.64"/>
<rect x="552.40" y="313.91" width="27.80" height="10.64"/>
<rect x="552.40" y="324.56" width="27.80" height="10.64"/>
<rect x="524.60" y="335.20" width="27.80" height="10.64"/>
<rect x="524.60" y="356.50" width="27.80" height="10.64"/>
</g>
<g font-family="Liberation Sans, sans-serif" font-size="16.7" fill="#111" text-anchor="end">
<text transform="translate(44.45,584.3) rotate(-90)">avg_bill</text>
<text transform="translate(62.38,584.3) rotate(-90)">cf</text>
<text transform="translate(80.31,584.3) rotate(-90)">sqft</text>
<text transform="translate(98.24,584.3) rotate(-90)">edu</text>
<text transform="translate(116.17,584.3) rotate(-90)">age</text>
<text transform="translate(134.10,584.3) rotate(-90)">n_peo</text>
<text transform="translate(152.03,584.3) rotate(-90)">kids</text>
<text transform="translate(185.89,594.2) rotate(-90)">37.5k</text>
<circle cx="179.89" cy="589.8" r="1.45"/>
<text transform="translate(213.67,585.6) rotate(-90)">62.5k</text>
<text transform="translate(241.45,585.6) rotate(-90)">87.5k</text>
<text transform="translate(269.23,585.6) rotate(-90)">125k</text>
<text transform="translate(297.01,585.6) rotate(-90)">175k+</text>
<text transform="translate(337.53,594.2) rotate(-90)">37.5k</text>
<circle cx="331.53" cy="589.8" r="1.45"/>
<text transform="translate(365.39,585.6) rotate(-90)">62.5k</text>
<text transform="translate(393.25,585.6) rotate(-90)">87.5k</text>
<text transform="translate(421.11,585.6) rotate(-90)">125k</text>
<text transform="translate(448.97,585.6) rotate(-90)">175k+</text>
<text transform="translate(489.50,594.2) rotate(-90)">37.5k</text>
<circle cx="483.50" cy="589.8" r="1.45"/>
<text transform="translate(517.30,585.6) rotate(-90)">62.5k</text>
<text transform="translate(545.10,585.6) rotate(-90)">87.5k</text>
<text transform="translate(572.90,585.6) rotate(-90)">125k</text>
<text transform="translate(600.70,585.6) rotate(-90)">175k+</text>
</g>
<g font-family="Liberation Sans, sans-serif" fill="#111">
<text x="616" y="38.2" font-size="15">avg_bill</text>
<rect x="616.5" y="47.7" width="14.6" height="14" fill="#f3f3f3"/>
<text x="636" y="58.9" font-size="14">&lt;200</text>
<rect x="616.5" y="63.4" width="14.6" height="14" fill="#cacaca"/>
<text x="636" y="75.1" font-size="14">200+</text>
<text x="616" y="105.0" font-size="15">cf</text>
<rect x="616.5" y="114.5" width="14.6" height="14" fill="#eff9ec"/>
<text x="636" y="125.8" font-size="14">(10,15]</text>
<rect x="616.5" y="130.2" width="14.6" height="14" fill="#b7e2b1"/>
<text x="636" y="141.9" font-size="14">(15,25]</text>
<text x="616" y="171.9" font-size="15">sqft</text>
<rect x="616.5" y="181.4" width="14.6" height="14" fill="#ffffcc"/>
<text x="636" y="192.6" font-size="14">&lt;3000</text>
<rect x="616.5" y="197.1" width="14.6" height="14" fill="#f9972b"/>
<text x="636" y="208.8" font-size="14">3000+</text>
<text x="616" y="238.8" font-size="15">edu</text>
<rect x="616.5" y="248.2" width="14.6" height="14" fill="#eef1f9"/>
<text x="636" y="259.4" font-size="14">&lt;BA</text>
<rect x="616.5" y="263.9" width="14.6" height="14" fill="#66a6d3"/>
<text x="636" y="275.6" font-size="14">BA+</text>
<text x="616" y="305.6" font-size="15">age</text>
<rect x="616.5" y="315.1" width="14.6" height="14" fill="#fdebe3"/>
<text x="636" y="326.3" font-size="14">&lt;60</text>
<rect x="616.5" y="330.8" width="14.6" height="14" fill="#f2579b"/>
<text x="636" y="342.5" font-size="14">60+</text>
<text x="616" y="372.4" font-size="15">n_peo</text>
<rect x="616.5" y="381.9" width="14.6" height="14" fill="#e9f6e4"/>
<text x="636" y="393.1" font-size="14">&lt;3</text>
<rect x="616.5" y="397.6" width="14.6" height="14" fill="#2fa159"/>
<text x="636" y="409.3" font-size="14">3+</text>
<text x="616" y="439.3" font-size="15">kids</text>
<rect x="616.5" y="448.8" width="14.6" height="14" fill="#f1eff7"/>
<text x="636" y="460.0" font-size="14">0</text>
<rect x="616.5" y="464.5" width="14.6" height="14" fill="#9f9bc9"/>
<text x="636" y="476.2" font-size="14">1</text>
<text x="616" y="506" font-size="15">adopter %</text>
<defs><linearGradient id="cb" x1="0" y1="1" x2="0" y2="0">
<stop offset="0.0000" stop-color="#4575b4"/>
<stop offset="0.1667" stop-color="#91bfdb"/>
<stop offset="0.3333" stop-color="#e0f3f8"/>
<stop offset="0.5000" stop-color="#ffffbf"/>
<stop offset="0.6667" stop-color="#fee090"/>
<stop offset="0.8333" stop-color="#fc8d59"/>
<stop offset="1.0000" stop-color="#d73027"/>
</linearGradient></defs>
<rect x="616" y="514.5" width="16" height="84.4" fill="url(#cb)"/>
<text x="636" y="523.4" font-size="14">1</text>
<path d="M616 517.2h3.5M632 517.2h-3.5" stroke="#fff" stroke-width="1"/>
<text x="636" y="562.3" font-size="14">0.5</text>
<path d="M616 556.6h3.5M632 556.6h-3.5" stroke="#fff" stroke-width="1"/>
<text x="636" y="601.5" font-size="14">0</text>
<path d="M616 596h3.5M632 596h-3.5" stroke="#fff" stroke-width="1"/>
</g>
</svg>
</body></html>
